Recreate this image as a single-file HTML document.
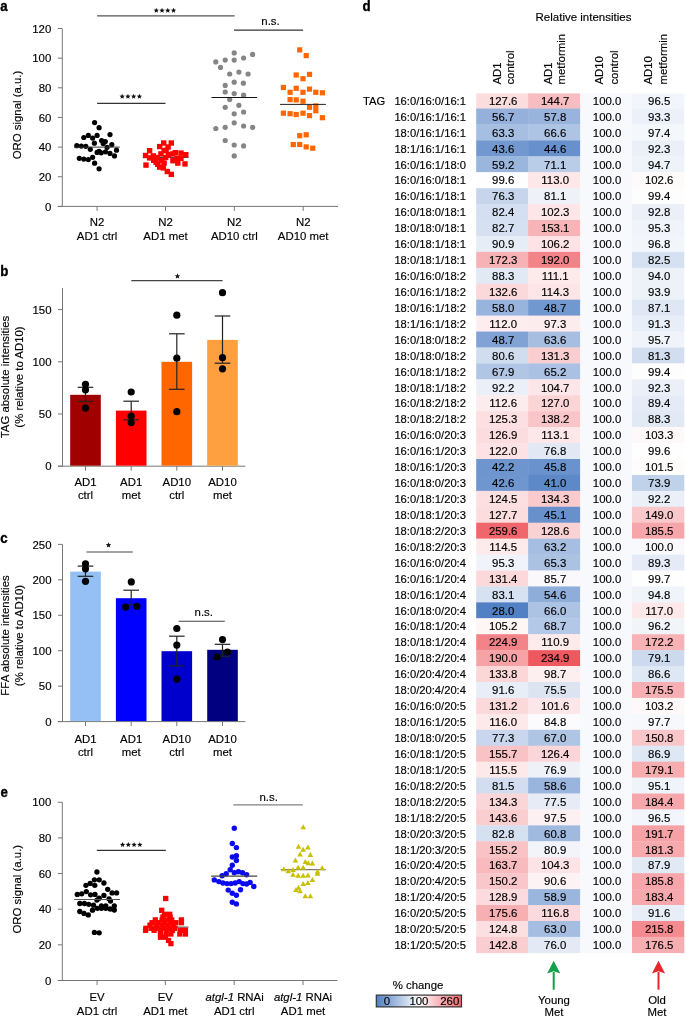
<!DOCTYPE html>
<html><head><meta charset="utf-8"><title>Figure</title>
<style>
html,body{margin:0;padding:0;background:#fff;width:685px;height:1016px;overflow:hidden;}
svg{display:block;font-family:"Liberation Sans", sans-serif;will-change:transform;-webkit-font-smoothing:antialiased;}
text{font-family:"Liberation Sans", sans-serif;}
</style></head>
<body>
<svg width="685" height="1016" viewBox="0 0 685 1016">
<rect x="0" y="0" width="685" height="1016" fill="#fff"/>
<text transform="translate(0.3 11.0) scale(0.9 1)" x="0" y="0" font-size="14.8" font-weight="bold" fill="#000" stroke="#000" stroke-width="0.35">a</text>
<line x1="62.30" y1="28.60" x2="62.30" y2="206.40" stroke="#777777" stroke-width="1"/>
<line x1="57.80" y1="206.40" x2="62.30" y2="206.40" stroke="#777777" stroke-width="1"/>
<text x="51.30" y="210.60" font-size="11.4" text-anchor="end" font-weight="normal" fill="#000" stroke="#000" stroke-width="0.15">0</text>
<line x1="57.80" y1="176.75" x2="62.30" y2="176.75" stroke="#777777" stroke-width="1"/>
<text x="51.30" y="180.95" font-size="11.4" text-anchor="end" font-weight="normal" fill="#000" stroke="#000" stroke-width="0.15">20</text>
<line x1="57.80" y1="147.10" x2="62.30" y2="147.10" stroke="#777777" stroke-width="1"/>
<text x="51.30" y="151.30" font-size="11.4" text-anchor="end" font-weight="normal" fill="#000" stroke="#000" stroke-width="0.15">40</text>
<line x1="57.80" y1="117.45" x2="62.30" y2="117.45" stroke="#777777" stroke-width="1"/>
<text x="51.30" y="121.65" font-size="11.4" text-anchor="end" font-weight="normal" fill="#000" stroke="#000" stroke-width="0.15">60</text>
<line x1="57.80" y1="87.80" x2="62.30" y2="87.80" stroke="#777777" stroke-width="1"/>
<text x="51.30" y="92.00" font-size="11.4" text-anchor="end" font-weight="normal" fill="#000" stroke="#000" stroke-width="0.15">80</text>
<line x1="57.80" y1="58.15" x2="62.30" y2="58.15" stroke="#777777" stroke-width="1"/>
<text x="51.30" y="62.35" font-size="11.4" text-anchor="end" font-weight="normal" fill="#000" stroke="#000" stroke-width="0.15">100</text>
<line x1="57.80" y1="28.50" x2="62.30" y2="28.50" stroke="#777777" stroke-width="1"/>
<text x="51.30" y="32.70" font-size="11.4" text-anchor="end" font-weight="normal" fill="#000" stroke="#000" stroke-width="0.15">120</text>
<line x1="57.80" y1="206.40" x2="338.00" y2="206.40" stroke="#777777" stroke-width="1"/>
<line x1="97.10" y1="206.40" x2="97.10" y2="210.90" stroke="#777777" stroke-width="1"/>
<line x1="165.50" y1="206.40" x2="165.50" y2="210.90" stroke="#777777" stroke-width="1"/>
<line x1="234.30" y1="206.40" x2="234.30" y2="210.90" stroke="#777777" stroke-width="1"/>
<line x1="303.20" y1="206.40" x2="303.20" y2="210.90" stroke="#777777" stroke-width="1"/>
<text x="97.10" y="226.00" font-size="11.4" text-anchor="middle" font-weight="normal" fill="#000" stroke="#000" stroke-width="0.15">N2</text>
<text x="97.10" y="240.20" font-size="11.4" text-anchor="middle" font-weight="normal" fill="#000" stroke="#000" stroke-width="0.15">AD1 ctrl</text>
<text x="165.50" y="226.00" font-size="11.4" text-anchor="middle" font-weight="normal" fill="#000" stroke="#000" stroke-width="0.15">N2</text>
<text x="165.50" y="240.20" font-size="11.4" text-anchor="middle" font-weight="normal" fill="#000" stroke="#000" stroke-width="0.15">AD1 met</text>
<text x="234.30" y="226.00" font-size="11.4" text-anchor="middle" font-weight="normal" fill="#000" stroke="#000" stroke-width="0.15">N2</text>
<text x="234.30" y="240.20" font-size="11.4" text-anchor="middle" font-weight="normal" fill="#000" stroke="#000" stroke-width="0.15">AD10 ctrl</text>
<text x="303.20" y="226.00" font-size="11.4" text-anchor="middle" font-weight="normal" fill="#000" stroke="#000" stroke-width="0.15">N2</text>
<text x="303.20" y="240.20" font-size="11.4" text-anchor="middle" font-weight="normal" fill="#000" stroke="#000" stroke-width="0.15">AD10 met</text>
<text x="21.00" y="115.00" font-size="11.4" text-anchor="middle" font-weight="normal" fill="#000" transform="rotate(-90 21.0 115.0)" stroke="#000" stroke-width="0.15">ORO signal (a.u.)</text>
<line x1="97.10" y1="15.90" x2="234.60" y2="15.90" stroke="#555555" stroke-width="1.2"/>
<polygon points="156.28,7.75 157.00,9.50 158.89,9.65 157.45,10.88 157.89,12.72 156.28,11.74 154.66,12.72 155.10,10.88 153.66,9.65 155.55,9.50" fill="#111"/>
<polygon points="162.03,7.75 162.75,9.50 164.64,9.65 163.20,10.88 163.64,12.72 162.03,11.74 160.41,12.72 160.85,10.88 159.41,9.65 161.30,9.50" fill="#111"/>
<polygon points="167.78,7.75 168.50,9.50 170.39,9.65 168.95,10.88 169.39,12.72 167.78,11.74 166.16,12.72 166.60,10.88 165.16,9.65 167.05,9.50" fill="#111"/>
<polygon points="173.53,7.75 174.25,9.50 176.14,9.65 174.70,10.88 175.14,12.72 173.53,11.74 171.91,12.72 172.35,10.88 170.91,9.65 172.80,9.50" fill="#111"/>
<line x1="234.00" y1="30.10" x2="303.10" y2="30.10" stroke="#333" stroke-width="1.2"/>
<text x="270.50" y="25.30" font-size="11.4" text-anchor="middle" font-weight="normal" fill="#000" stroke="#000" stroke-width="0.15">n.s.</text>
<line x1="97.10" y1="103.30" x2="165.50" y2="103.30" stroke="#333" stroke-width="1.2"/>
<polygon points="122.18,93.75 122.90,95.50 124.79,95.65 123.35,96.88 123.79,98.72 122.18,97.74 120.56,98.72 121.00,96.88 119.56,95.65 121.45,95.50" fill="#111"/>
<polygon points="127.93,93.75 128.65,95.50 130.54,95.65 129.10,96.88 129.54,98.72 127.93,97.74 126.31,98.72 126.75,96.88 125.31,95.65 127.20,95.50" fill="#111"/>
<polygon points="133.68,93.75 134.40,95.50 136.29,95.65 134.85,96.88 135.29,98.72 133.68,97.74 132.06,98.72 132.50,96.88 131.06,95.65 132.95,95.50" fill="#111"/>
<polygon points="139.43,93.75 140.15,95.50 142.04,95.65 140.60,96.88 141.04,98.72 139.43,97.74 137.81,98.72 138.25,96.88 136.81,95.65 138.70,95.50" fill="#111"/>
<circle cx="94.60" cy="122.60" r="2.6" fill="#000"/>
<circle cx="99.10" cy="127.70" r="2.6" fill="#000"/>
<circle cx="83.80" cy="137.50" r="2.6" fill="#000"/>
<circle cx="88.30" cy="135.40" r="2.6" fill="#000"/>
<circle cx="92.60" cy="138.10" r="2.6" fill="#000"/>
<circle cx="97.10" cy="135.40" r="2.6" fill="#000"/>
<circle cx="110.00" cy="134.60" r="2.6" fill="#000"/>
<circle cx="94.40" cy="143.20" r="2.6" fill="#000"/>
<circle cx="101.60" cy="140.50" r="2.6" fill="#000"/>
<circle cx="105.30" cy="141.60" r="2.6" fill="#000"/>
<circle cx="103.20" cy="143.60" r="2.6" fill="#000"/>
<circle cx="111.80" cy="144.60" r="2.6" fill="#000"/>
<circle cx="76.80" cy="145.70" r="2.6" fill="#000"/>
<circle cx="81.30" cy="146.10" r="2.6" fill="#000"/>
<circle cx="85.80" cy="146.30" r="2.6" fill="#000"/>
<circle cx="90.30" cy="149.30" r="2.6" fill="#000"/>
<circle cx="107.10" cy="147.30" r="2.6" fill="#000"/>
<circle cx="116.50" cy="150.20" r="2.6" fill="#000"/>
<circle cx="97.10" cy="152.40" r="2.6" fill="#000"/>
<circle cx="99.10" cy="151.40" r="2.6" fill="#000"/>
<circle cx="101.20" cy="152.80" r="2.6" fill="#000"/>
<circle cx="105.50" cy="151.80" r="2.6" fill="#000"/>
<circle cx="110.00" cy="153.40" r="2.6" fill="#000"/>
<circle cx="114.50" cy="155.90" r="2.6" fill="#000"/>
<circle cx="79.30" cy="158.30" r="2.6" fill="#000"/>
<circle cx="83.80" cy="159.10" r="2.6" fill="#000"/>
<circle cx="88.30" cy="159.60" r="2.6" fill="#000"/>
<circle cx="92.60" cy="157.30" r="2.6" fill="#000"/>
<circle cx="94.60" cy="163.20" r="2.6" fill="#000"/>
<circle cx="99.10" cy="168.80" r="2.6" fill="#000"/>
<line x1="74.00" y1="147.10" x2="119.80" y2="147.10" stroke="#333" stroke-width="1"/>
<line x1="142.80" y1="157.30" x2="188.60" y2="157.30" stroke="#222" stroke-width="1"/>
<rect x="161.00" y="140.30" width="5.4" height="5.4" fill="#ff0000"/>
<rect x="168.60" y="140.30" width="5.4" height="5.4" fill="#ff0000"/>
<rect x="157.00" y="143.90" width="5.4" height="5.4" fill="#ff0000"/>
<rect x="165.40" y="144.30" width="5.4" height="5.4" fill="#ff0000"/>
<rect x="146.90" y="148.00" width="5.4" height="5.4" fill="#ff0000"/>
<rect x="161.40" y="148.00" width="5.4" height="5.4" fill="#ff0000"/>
<rect x="172.60" y="150.00" width="5.4" height="5.4" fill="#ff0000"/>
<rect x="178.30" y="150.40" width="5.4" height="5.4" fill="#ff0000"/>
<rect x="183.10" y="152.00" width="5.4" height="5.4" fill="#ff0000"/>
<rect x="142.90" y="152.80" width="5.4" height="5.4" fill="#ff0000"/>
<rect x="150.60" y="153.20" width="5.4" height="5.4" fill="#ff0000"/>
<rect x="158.20" y="151.20" width="5.4" height="5.4" fill="#ff0000"/>
<rect x="165.80" y="152.00" width="5.4" height="5.4" fill="#ff0000"/>
<rect x="169.80" y="151.20" width="5.4" height="5.4" fill="#ff0000"/>
<rect x="146.90" y="155.20" width="5.4" height="5.4" fill="#ff0000"/>
<rect x="154.60" y="154.80" width="5.4" height="5.4" fill="#ff0000"/>
<rect x="163.00" y="154.80" width="5.4" height="5.4" fill="#ff0000"/>
<rect x="174.30" y="155.60" width="5.4" height="5.4" fill="#ff0000"/>
<rect x="178.30" y="155.60" width="5.4" height="5.4" fill="#ff0000"/>
<rect x="151.00" y="157.60" width="5.4" height="5.4" fill="#ff0000"/>
<rect x="159.00" y="158.00" width="5.4" height="5.4" fill="#ff0000"/>
<rect x="170.20" y="158.00" width="5.4" height="5.4" fill="#ff0000"/>
<rect x="175.10" y="160.40" width="5.4" height="5.4" fill="#ff0000"/>
<rect x="182.30" y="161.20" width="5.4" height="5.4" fill="#ff0000"/>
<rect x="143.30" y="162.40" width="5.4" height="5.4" fill="#ff0000"/>
<rect x="155.00" y="161.60" width="5.4" height="5.4" fill="#ff0000"/>
<rect x="161.40" y="160.40" width="5.4" height="5.4" fill="#ff0000"/>
<rect x="157.00" y="164.40" width="5.4" height="5.4" fill="#ff0000"/>
<rect x="160.60" y="165.20" width="5.4" height="5.4" fill="#ff0000"/>
<rect x="164.60" y="168.80" width="5.4" height="5.4" fill="#ff0000"/>
<rect x="168.60" y="171.70" width="5.4" height="5.4" fill="#ff0000"/>
<rect x="153.40" y="159.60" width="5.4" height="5.4" fill="#ff0000"/>
<rect x="163.40" y="147.60" width="5.4" height="5.4" fill="#ff0000"/>
<circle cx="234.20" cy="52.90" r="2.6" fill="#858585"/>
<circle cx="252.60" cy="54.40" r="2.6" fill="#858585"/>
<circle cx="215.80" cy="61.90" r="2.6" fill="#858585"/>
<circle cx="225.20" cy="60.10" r="2.6" fill="#858585"/>
<circle cx="234.20" cy="60.10" r="2.6" fill="#858585"/>
<circle cx="243.60" cy="58.00" r="2.6" fill="#858585"/>
<circle cx="220.50" cy="67.40" r="2.6" fill="#858585"/>
<circle cx="229.70" cy="74.00" r="2.6" fill="#858585"/>
<circle cx="238.90" cy="72.10" r="2.6" fill="#858585"/>
<circle cx="248.10" cy="74.00" r="2.6" fill="#858585"/>
<circle cx="225.20" cy="85.40" r="2.6" fill="#858585"/>
<circle cx="234.20" cy="82.20" r="2.6" fill="#858585"/>
<circle cx="243.40" cy="83.20" r="2.6" fill="#858585"/>
<circle cx="225.20" cy="92.00" r="2.6" fill="#858585"/>
<circle cx="234.20" cy="93.60" r="2.6" fill="#858585"/>
<circle cx="243.60" cy="95.20" r="2.6" fill="#858585"/>
<circle cx="229.70" cy="99.50" r="2.6" fill="#858585"/>
<circle cx="225.20" cy="107.30" r="2.6" fill="#858585"/>
<circle cx="238.90" cy="105.30" r="2.6" fill="#858585"/>
<circle cx="234.20" cy="113.80" r="2.6" fill="#858585"/>
<circle cx="243.60" cy="112.00" r="2.6" fill="#858585"/>
<circle cx="215.80" cy="128.50" r="2.6" fill="#858585"/>
<circle cx="225.20" cy="127.30" r="2.6" fill="#858585"/>
<circle cx="234.20" cy="122.80" r="2.6" fill="#858585"/>
<circle cx="243.60" cy="126.00" r="2.6" fill="#858585"/>
<circle cx="252.60" cy="127.30" r="2.6" fill="#858585"/>
<circle cx="225.20" cy="140.50" r="2.6" fill="#858585"/>
<circle cx="234.20" cy="145.00" r="2.6" fill="#858585"/>
<circle cx="243.60" cy="145.90" r="2.6" fill="#858585"/>
<circle cx="234.20" cy="155.90" r="2.6" fill="#858585"/>
<line x1="211.50" y1="97.50" x2="257.10" y2="97.50" stroke="#111" stroke-width="1"/>
<rect x="297.10" y="47.30" width="5.2" height="5.2" fill="#ff6600"/>
<rect x="303.60" y="53.00" width="5.2" height="5.2" fill="#ff6600"/>
<rect x="293.60" y="72.40" width="5.2" height="5.2" fill="#ff6600"/>
<rect x="300.40" y="76.10" width="5.2" height="5.2" fill="#ff6600"/>
<rect x="306.90" y="71.80" width="5.2" height="5.2" fill="#ff6600"/>
<rect x="280.80" y="84.90" width="5.2" height="5.2" fill="#ff6600"/>
<rect x="287.50" y="89.70" width="5.2" height="5.2" fill="#ff6600"/>
<rect x="293.60" y="85.70" width="5.2" height="5.2" fill="#ff6600"/>
<rect x="300.40" y="89.70" width="5.2" height="5.2" fill="#ff6600"/>
<rect x="306.90" y="86.50" width="5.2" height="5.2" fill="#ff6600"/>
<rect x="313.20" y="89.70" width="5.2" height="5.2" fill="#ff6600"/>
<rect x="319.80" y="90.20" width="5.2" height="5.2" fill="#ff6600"/>
<rect x="287.50" y="97.00" width="5.2" height="5.2" fill="#ff6600"/>
<rect x="293.60" y="97.30" width="5.2" height="5.2" fill="#ff6600"/>
<rect x="300.40" y="98.60" width="5.2" height="5.2" fill="#ff6600"/>
<rect x="306.90" y="104.70" width="5.2" height="5.2" fill="#ff6600"/>
<rect x="313.20" y="103.40" width="5.2" height="5.2" fill="#ff6600"/>
<rect x="313.20" y="108.20" width="5.2" height="5.2" fill="#ff6600"/>
<rect x="280.80" y="110.60" width="5.2" height="5.2" fill="#ff6600"/>
<rect x="287.50" y="111.10" width="5.2" height="5.2" fill="#ff6600"/>
<rect x="293.60" y="111.90" width="5.2" height="5.2" fill="#ff6600"/>
<rect x="300.40" y="110.60" width="5.2" height="5.2" fill="#ff6600"/>
<rect x="306.90" y="113.00" width="5.2" height="5.2" fill="#ff6600"/>
<rect x="319.80" y="115.10" width="5.2" height="5.2" fill="#ff6600"/>
<rect x="297.10" y="133.10" width="5.2" height="5.2" fill="#ff6600"/>
<rect x="303.60" y="132.20" width="5.2" height="5.2" fill="#ff6600"/>
<rect x="290.70" y="142.00" width="5.2" height="5.2" fill="#ff6600"/>
<rect x="297.10" y="141.90" width="5.2" height="5.2" fill="#ff6600"/>
<rect x="303.60" y="144.30" width="5.2" height="5.2" fill="#ff6600"/>
<rect x="310.10" y="145.60" width="5.2" height="5.2" fill="#ff6600"/>
<line x1="280.10" y1="104.40" x2="325.90" y2="104.40" stroke="#222" stroke-width="1"/>
<text transform="translate(0.3 275.7) scale(0.9 1)" x="0" y="0" font-size="14.8" font-weight="bold" fill="#000" stroke="#000" stroke-width="0.35">b</text>
<line x1="62.50" y1="288.00" x2="62.50" y2="466.20" stroke="#777777" stroke-width="1"/>
<line x1="58.00" y1="466.20" x2="62.50" y2="466.20" stroke="#777777" stroke-width="1"/>
<text x="51.50" y="470.40" font-size="11.4" text-anchor="end" font-weight="normal" fill="#000" stroke="#000" stroke-width="0.15">0</text>
<line x1="58.00" y1="414.00" x2="62.50" y2="414.00" stroke="#777777" stroke-width="1"/>
<text x="51.50" y="418.20" font-size="11.4" text-anchor="end" font-weight="normal" fill="#000" stroke="#000" stroke-width="0.15">50</text>
<line x1="58.00" y1="361.80" x2="62.50" y2="361.80" stroke="#777777" stroke-width="1"/>
<text x="51.50" y="366.00" font-size="11.4" text-anchor="end" font-weight="normal" fill="#000" stroke="#000" stroke-width="0.15">100</text>
<line x1="58.00" y1="309.60" x2="62.50" y2="309.60" stroke="#777777" stroke-width="1"/>
<text x="51.50" y="313.80" font-size="11.4" text-anchor="end" font-weight="normal" fill="#000" stroke="#000" stroke-width="0.15">150</text>
<line x1="57.80" y1="466.20" x2="245.30" y2="466.20" stroke="#777777" stroke-width="1"/>
<line x1="85.50" y1="466.20" x2="85.50" y2="470.70" stroke="#777777" stroke-width="1"/>
<line x1="131.20" y1="466.20" x2="131.20" y2="470.70" stroke="#777777" stroke-width="1"/>
<line x1="176.80" y1="466.20" x2="176.80" y2="470.70" stroke="#777777" stroke-width="1"/>
<line x1="222.50" y1="466.20" x2="222.50" y2="470.70" stroke="#777777" stroke-width="1"/>
<rect x="70.20" y="394.80" width="30.60" height="70.90" fill="#a00000"/>
<rect x="115.90" y="410.60" width="30.60" height="55.10" fill="#ff0000"/>
<rect x="161.50" y="361.80" width="30.60" height="103.90" fill="#ff6600"/>
<rect x="207.20" y="339.90" width="30.60" height="125.80" fill="#ffa040"/>
<line x1="85.50" y1="387.30" x2="85.50" y2="401.50" stroke="#222" stroke-width="1.2"/>
<line x1="77.70" y1="387.30" x2="93.30" y2="387.30" stroke="#222" stroke-width="1.2"/>
<line x1="77.70" y1="401.50" x2="93.30" y2="401.50" stroke="#222" stroke-width="1.2"/>
<line x1="131.20" y1="401.20" x2="131.20" y2="419.80" stroke="#222" stroke-width="1.2"/>
<line x1="123.40" y1="401.20" x2="139.00" y2="401.20" stroke="#222" stroke-width="1.2"/>
<line x1="123.40" y1="419.80" x2="139.00" y2="419.80" stroke="#222" stroke-width="1.2"/>
<line x1="176.80" y1="333.80" x2="176.80" y2="389.30" stroke="#222" stroke-width="1.2"/>
<line x1="169.00" y1="333.80" x2="184.60" y2="333.80" stroke="#222" stroke-width="1.2"/>
<line x1="169.00" y1="389.30" x2="184.60" y2="389.30" stroke="#222" stroke-width="1.2"/>
<line x1="222.50" y1="316.00" x2="222.50" y2="363.20" stroke="#222" stroke-width="1.2"/>
<line x1="214.70" y1="316.00" x2="230.30" y2="316.00" stroke="#222" stroke-width="1.2"/>
<line x1="214.70" y1="363.20" x2="230.30" y2="363.20" stroke="#222" stroke-width="1.2"/>
<circle cx="85.50" cy="384.30" r="3.6" fill="#000"/>
<circle cx="85.50" cy="389.80" r="3.6" fill="#000"/>
<circle cx="85.50" cy="408.10" r="3.6" fill="#000"/>
<circle cx="131.20" cy="392.00" r="3.6" fill="#000"/>
<circle cx="131.20" cy="416.20" r="3.6" fill="#000"/>
<circle cx="131.20" cy="422.60" r="3.6" fill="#000"/>
<circle cx="176.80" cy="315.20" r="3.6" fill="#000"/>
<circle cx="176.80" cy="358.20" r="3.6" fill="#000"/>
<circle cx="176.80" cy="411.70" r="3.6" fill="#000"/>
<circle cx="222.50" cy="292.70" r="3.6" fill="#000"/>
<circle cx="222.50" cy="357.70" r="3.6" fill="#000"/>
<circle cx="222.50" cy="368.80" r="3.6" fill="#000"/>
<line x1="131.30" y1="280.60" x2="222.60" y2="280.60" stroke="#444" stroke-width="1.1"/>
<polygon points="177.45,273.35 178.20,275.16 180.16,275.32 178.67,276.60 179.13,278.51 177.45,277.48 175.77,278.51 176.23,276.60 174.74,275.32 176.70,275.16" fill="#111"/>
<text x="85.50" y="485.80" font-size="11.4" text-anchor="middle" font-weight="normal" fill="#000" stroke="#000" stroke-width="0.15">AD1</text>
<text x="85.50" y="499.00" font-size="11.4" text-anchor="middle" font-weight="normal" fill="#000" stroke="#000" stroke-width="0.15">ctrl</text>
<text x="131.20" y="485.80" font-size="11.4" text-anchor="middle" font-weight="normal" fill="#000" stroke="#000" stroke-width="0.15">AD1</text>
<text x="131.20" y="499.00" font-size="11.4" text-anchor="middle" font-weight="normal" fill="#000" stroke="#000" stroke-width="0.15">met</text>
<text x="176.80" y="485.80" font-size="11.4" text-anchor="middle" font-weight="normal" fill="#000" stroke="#000" stroke-width="0.15">AD10</text>
<text x="176.80" y="499.00" font-size="11.4" text-anchor="middle" font-weight="normal" fill="#000" stroke="#000" stroke-width="0.15">ctrl</text>
<text x="222.50" y="485.80" font-size="11.4" text-anchor="middle" font-weight="normal" fill="#000" stroke="#000" stroke-width="0.15">AD10</text>
<text x="222.50" y="499.00" font-size="11.4" text-anchor="middle" font-weight="normal" fill="#000" stroke="#000" stroke-width="0.15">met</text>
<text x="8.80" y="377.00" font-size="11.4" text-anchor="middle" font-weight="normal" fill="#000" transform="rotate(-90 8.8 377.0)" stroke="#000" stroke-width="0.15">TAG absolute intensities</text>
<text x="23.20" y="377.00" font-size="11.4" text-anchor="middle" font-weight="normal" fill="#000" transform="rotate(-90 23.2 377.0)" stroke="#000" stroke-width="0.15">(% relative to AD10)</text>
<text transform="translate(0.3 542.9) scale(0.9 1)" x="0" y="0" font-size="14.8" font-weight="bold" fill="#000" stroke="#000" stroke-width="0.35">c</text>
<line x1="62.50" y1="544.60" x2="62.50" y2="721.60" stroke="#777777" stroke-width="1"/>
<line x1="58.00" y1="721.60" x2="62.50" y2="721.60" stroke="#777777" stroke-width="1"/>
<text x="51.50" y="725.80" font-size="11.4" text-anchor="end" font-weight="normal" fill="#000" stroke="#000" stroke-width="0.15">0</text>
<line x1="58.00" y1="686.16" x2="62.50" y2="686.16" stroke="#777777" stroke-width="1"/>
<text x="51.50" y="690.36" font-size="11.4" text-anchor="end" font-weight="normal" fill="#000" stroke="#000" stroke-width="0.15">50</text>
<line x1="58.00" y1="650.72" x2="62.50" y2="650.72" stroke="#777777" stroke-width="1"/>
<text x="51.50" y="654.92" font-size="11.4" text-anchor="end" font-weight="normal" fill="#000" stroke="#000" stroke-width="0.15">100</text>
<line x1="58.00" y1="615.28" x2="62.50" y2="615.28" stroke="#777777" stroke-width="1"/>
<text x="51.50" y="619.48" font-size="11.4" text-anchor="end" font-weight="normal" fill="#000" stroke="#000" stroke-width="0.15">150</text>
<line x1="58.00" y1="579.84" x2="62.50" y2="579.84" stroke="#777777" stroke-width="1"/>
<text x="51.50" y="584.04" font-size="11.4" text-anchor="end" font-weight="normal" fill="#000" stroke="#000" stroke-width="0.15">200</text>
<line x1="58.00" y1="544.40" x2="62.50" y2="544.40" stroke="#777777" stroke-width="1"/>
<text x="51.50" y="548.60" font-size="11.4" text-anchor="end" font-weight="normal" fill="#000" stroke="#000" stroke-width="0.15">250</text>
<line x1="57.80" y1="721.60" x2="245.30" y2="721.60" stroke="#777777" stroke-width="1"/>
<line x1="85.50" y1="721.60" x2="85.50" y2="726.10" stroke="#777777" stroke-width="1"/>
<line x1="131.20" y1="721.60" x2="131.20" y2="726.10" stroke="#777777" stroke-width="1"/>
<line x1="176.80" y1="721.60" x2="176.80" y2="726.10" stroke="#777777" stroke-width="1"/>
<line x1="222.50" y1="721.60" x2="222.50" y2="726.10" stroke="#777777" stroke-width="1"/>
<rect x="70.20" y="571.60" width="30.60" height="149.50" fill="#94c0f5"/>
<rect x="115.90" y="598.20" width="30.60" height="122.90" fill="#0000ff"/>
<rect x="161.50" y="651.20" width="30.60" height="69.90" fill="#0000cc"/>
<rect x="207.20" y="649.80" width="30.60" height="71.30" fill="#000080"/>
<line x1="85.50" y1="566.10" x2="85.50" y2="576.30" stroke="#222" stroke-width="1.2"/>
<line x1="77.70" y1="566.10" x2="93.30" y2="566.10" stroke="#222" stroke-width="1.2"/>
<line x1="77.70" y1="576.30" x2="93.30" y2="576.30" stroke="#222" stroke-width="1.2"/>
<line x1="131.20" y1="590.20" x2="131.20" y2="605.00" stroke="#222" stroke-width="1.2"/>
<line x1="123.40" y1="590.20" x2="139.00" y2="590.20" stroke="#222" stroke-width="1.2"/>
<line x1="123.40" y1="605.00" x2="139.00" y2="605.00" stroke="#222" stroke-width="1.2"/>
<line x1="176.80" y1="636.20" x2="176.80" y2="665.90" stroke="#222" stroke-width="1.2"/>
<line x1="169.00" y1="636.20" x2="184.60" y2="636.20" stroke="#222" stroke-width="1.2"/>
<line x1="169.00" y1="665.90" x2="184.60" y2="665.90" stroke="#222" stroke-width="1.2"/>
<line x1="222.50" y1="644.30" x2="222.50" y2="656.20" stroke="#222" stroke-width="1.2"/>
<line x1="214.70" y1="644.30" x2="230.30" y2="644.30" stroke="#222" stroke-width="1.2"/>
<line x1="214.70" y1="656.20" x2="230.30" y2="656.20" stroke="#222" stroke-width="1.2"/>
<circle cx="85.50" cy="563.80" r="3.6" fill="#000"/>
<circle cx="85.50" cy="568.80" r="3.6" fill="#000"/>
<circle cx="85.50" cy="581.30" r="3.6" fill="#000"/>
<circle cx="131.30" cy="581.90" r="3.6" fill="#000"/>
<circle cx="125.70" cy="607.10" r="3.6" fill="#000"/>
<circle cx="136.80" cy="606.30" r="3.6" fill="#000"/>
<circle cx="176.80" cy="628.50" r="3.6" fill="#000"/>
<circle cx="176.80" cy="645.10" r="3.6" fill="#000"/>
<circle cx="176.80" cy="679.20" r="3.6" fill="#000"/>
<circle cx="222.50" cy="639.60" r="3.6" fill="#000"/>
<circle cx="217.00" cy="657.00" r="3.6" fill="#000"/>
<circle cx="227.50" cy="652.00" r="3.6" fill="#000"/>
<line x1="86.40" y1="552.00" x2="132.70" y2="552.00" stroke="#444" stroke-width="1.1"/>
<polygon points="108.50,542.25 109.25,544.06 111.21,544.22 109.72,545.50 110.18,547.41 108.50,546.38 106.82,547.41 107.28,545.50 105.79,544.22 107.75,544.06" fill="#111"/>
<line x1="178.70" y1="621.20" x2="224.80" y2="621.20" stroke="#444" stroke-width="1.1"/>
<text x="203.80" y="615.50" font-size="11.4" text-anchor="middle" font-weight="normal" fill="#000" stroke="#000" stroke-width="0.15">n.s.</text>
<text x="85.50" y="742.60" font-size="11.4" text-anchor="middle" font-weight="normal" fill="#000" stroke="#000" stroke-width="0.15">AD1</text>
<text x="85.50" y="755.80" font-size="11.4" text-anchor="middle" font-weight="normal" fill="#000" stroke="#000" stroke-width="0.15">ctrl</text>
<text x="131.20" y="742.60" font-size="11.4" text-anchor="middle" font-weight="normal" fill="#000" stroke="#000" stroke-width="0.15">AD1</text>
<text x="131.20" y="755.80" font-size="11.4" text-anchor="middle" font-weight="normal" fill="#000" stroke="#000" stroke-width="0.15">met</text>
<text x="176.80" y="742.60" font-size="11.4" text-anchor="middle" font-weight="normal" fill="#000" stroke="#000" stroke-width="0.15">AD10</text>
<text x="176.80" y="755.80" font-size="11.4" text-anchor="middle" font-weight="normal" fill="#000" stroke="#000" stroke-width="0.15">ctrl</text>
<text x="222.50" y="742.60" font-size="11.4" text-anchor="middle" font-weight="normal" fill="#000" stroke="#000" stroke-width="0.15">AD10</text>
<text x="222.50" y="755.80" font-size="11.4" text-anchor="middle" font-weight="normal" fill="#000" stroke="#000" stroke-width="0.15">met</text>
<text x="8.80" y="635.50" font-size="11.4" text-anchor="middle" font-weight="normal" fill="#000" transform="rotate(-90 8.8 635.5)" stroke="#000" stroke-width="0.15">FFA absolute intensities</text>
<text x="23.20" y="635.50" font-size="11.4" text-anchor="middle" font-weight="normal" fill="#000" transform="rotate(-90 23.2 635.5)" stroke="#000" stroke-width="0.15">(% relative to AD10)</text>
<text transform="translate(0.6 796.6) scale(0.9 1)" x="0" y="0" font-size="14.8" font-weight="bold" fill="#000" stroke="#000" stroke-width="0.35">e</text>
<line x1="62.30" y1="802.30" x2="62.30" y2="980.50" stroke="#777777" stroke-width="1"/>
<line x1="57.80" y1="980.50" x2="62.30" y2="980.50" stroke="#777777" stroke-width="1"/>
<text x="51.30" y="984.70" font-size="11.4" text-anchor="end" font-weight="normal" fill="#000" stroke="#000" stroke-width="0.15">0</text>
<line x1="57.80" y1="944.85" x2="62.30" y2="944.85" stroke="#777777" stroke-width="1"/>
<text x="51.30" y="949.05" font-size="11.4" text-anchor="end" font-weight="normal" fill="#000" stroke="#000" stroke-width="0.15">20</text>
<line x1="57.80" y1="909.20" x2="62.30" y2="909.20" stroke="#777777" stroke-width="1"/>
<text x="51.30" y="913.40" font-size="11.4" text-anchor="end" font-weight="normal" fill="#000" stroke="#000" stroke-width="0.15">40</text>
<line x1="57.80" y1="873.55" x2="62.30" y2="873.55" stroke="#777777" stroke-width="1"/>
<text x="51.30" y="877.75" font-size="11.4" text-anchor="end" font-weight="normal" fill="#000" stroke="#000" stroke-width="0.15">60</text>
<line x1="57.80" y1="837.90" x2="62.30" y2="837.90" stroke="#777777" stroke-width="1"/>
<text x="51.30" y="842.10" font-size="11.4" text-anchor="end" font-weight="normal" fill="#000" stroke="#000" stroke-width="0.15">80</text>
<line x1="57.80" y1="802.25" x2="62.30" y2="802.25" stroke="#777777" stroke-width="1"/>
<text x="51.30" y="806.45" font-size="11.4" text-anchor="end" font-weight="normal" fill="#000" stroke="#000" stroke-width="0.15">100</text>
<line x1="57.80" y1="980.50" x2="337.50" y2="980.50" stroke="#777777" stroke-width="1"/>
<line x1="97.10" y1="980.50" x2="97.10" y2="985.00" stroke="#777777" stroke-width="1"/>
<line x1="165.30" y1="980.50" x2="165.30" y2="985.00" stroke="#777777" stroke-width="1"/>
<line x1="234.20" y1="980.50" x2="234.20" y2="985.00" stroke="#777777" stroke-width="1"/>
<line x1="303.00" y1="980.50" x2="303.00" y2="985.00" stroke="#777777" stroke-width="1"/>
<line x1="96.80" y1="850.40" x2="165.80" y2="850.40" stroke="#333" stroke-width="1.2"/>
<polygon points="122.57,842.05 123.30,843.80 125.19,843.95 123.75,845.18 124.19,847.02 122.57,846.04 120.96,847.02 121.40,845.18 119.96,843.95 121.85,843.80" fill="#111"/>
<polygon points="128.32,842.05 129.05,843.80 130.94,843.95 129.50,845.18 129.94,847.02 128.32,846.04 126.71,847.02 127.15,845.18 125.71,843.95 127.60,843.80" fill="#111"/>
<polygon points="134.07,842.05 134.80,843.80 136.69,843.95 135.25,845.18 135.69,847.02 134.07,846.04 132.46,847.02 132.90,845.18 131.46,843.95 133.35,843.80" fill="#111"/>
<polygon points="139.82,842.05 140.55,843.80 142.44,843.95 141.00,845.18 141.44,847.02 139.82,846.04 138.21,847.02 138.65,845.18 137.21,843.95 139.10,843.80" fill="#111"/>
<line x1="233.30" y1="804.90" x2="302.80" y2="804.90" stroke="#808080" stroke-width="1.4"/>
<text x="268.70" y="801.20" font-size="11.4" text-anchor="middle" font-weight="normal" fill="#000" stroke="#000" stroke-width="0.15">n.s.</text>
<text x="21.00" y="889.20" font-size="11.4" text-anchor="middle" font-weight="normal" fill="#000" transform="rotate(-90 21.0 889.2)" stroke="#000" stroke-width="0.15">ORO signal (a.u.)</text>
<circle cx="96.90" cy="872.00" r="2.65" fill="#000"/>
<circle cx="94.40" cy="879.80" r="2.65" fill="#000"/>
<circle cx="99.20" cy="879.80" r="2.65" fill="#000"/>
<circle cx="103.90" cy="883.00" r="2.65" fill="#000"/>
<circle cx="85.90" cy="885.30" r="2.65" fill="#000"/>
<circle cx="90.20" cy="883.40" r="2.65" fill="#000"/>
<circle cx="94.80" cy="885.30" r="2.65" fill="#000"/>
<circle cx="107.70" cy="889.30" r="2.65" fill="#000"/>
<circle cx="86.30" cy="891.60" r="2.65" fill="#000"/>
<circle cx="77.30" cy="894.40" r="2.65" fill="#000"/>
<circle cx="81.70" cy="893.80" r="2.65" fill="#000"/>
<circle cx="90.60" cy="894.80" r="2.65" fill="#000"/>
<circle cx="95.00" cy="894.40" r="2.65" fill="#000"/>
<circle cx="112.10" cy="892.90" r="2.65" fill="#000"/>
<circle cx="116.60" cy="892.90" r="2.65" fill="#000"/>
<circle cx="103.90" cy="895.40" r="2.65" fill="#000"/>
<circle cx="99.20" cy="898.20" r="2.65" fill="#000"/>
<circle cx="96.90" cy="900.10" r="2.65" fill="#000"/>
<circle cx="109.00" cy="898.80" r="2.65" fill="#000"/>
<circle cx="110.50" cy="901.10" r="2.65" fill="#000"/>
<circle cx="79.80" cy="903.50" r="2.65" fill="#000"/>
<circle cx="84.40" cy="903.50" r="2.65" fill="#000"/>
<circle cx="88.70" cy="904.30" r="2.65" fill="#000"/>
<circle cx="93.50" cy="905.20" r="2.65" fill="#000"/>
<circle cx="101.40" cy="905.80" r="2.65" fill="#000"/>
<circle cx="105.80" cy="905.80" r="2.65" fill="#000"/>
<circle cx="114.30" cy="905.80" r="2.65" fill="#000"/>
<circle cx="97.30" cy="908.30" r="2.65" fill="#000"/>
<circle cx="92.50" cy="910.20" r="2.65" fill="#000"/>
<circle cx="101.40" cy="908.30" r="2.65" fill="#000"/>
<circle cx="105.80" cy="908.30" r="2.65" fill="#000"/>
<circle cx="110.20" cy="909.00" r="2.65" fill="#000"/>
<circle cx="114.30" cy="910.00" r="2.65" fill="#000"/>
<circle cx="79.80" cy="911.50" r="2.65" fill="#000"/>
<circle cx="84.00" cy="913.40" r="2.65" fill="#000"/>
<circle cx="88.30" cy="914.90" r="2.65" fill="#000"/>
<circle cx="94.40" cy="932.40" r="2.65" fill="#000"/>
<circle cx="99.20" cy="932.80" r="2.65" fill="#000"/>
<line x1="74.10" y1="899.50" x2="120.00" y2="899.50" stroke="#555" stroke-width="1.2"/>
<line x1="143.20" y1="927.10" x2="188.40" y2="927.10" stroke="#666" stroke-width="1.2"/>
<rect x="163.05" y="895.85" width="5.3" height="5.3" fill="#ff0000"/>
<rect x="159.05" y="907.65" width="5.3" height="5.3" fill="#ff0000"/>
<rect x="161.85" y="911.65" width="5.3" height="5.3" fill="#ff0000"/>
<rect x="167.05" y="911.65" width="5.3" height="5.3" fill="#ff0000"/>
<rect x="160.25" y="914.45" width="5.3" height="5.3" fill="#ff0000"/>
<rect x="167.45" y="914.45" width="5.3" height="5.3" fill="#ff0000"/>
<rect x="152.65" y="917.25" width="5.3" height="5.3" fill="#ff0000"/>
<rect x="159.45" y="917.25" width="5.3" height="5.3" fill="#ff0000"/>
<rect x="164.25" y="917.25" width="5.3" height="5.3" fill="#ff0000"/>
<rect x="169.05" y="917.25" width="5.3" height="5.3" fill="#ff0000"/>
<rect x="178.75" y="917.25" width="5.3" height="5.3" fill="#ff0000"/>
<rect x="149.45" y="920.05" width="5.3" height="5.3" fill="#ff0000"/>
<rect x="155.45" y="920.05" width="5.3" height="5.3" fill="#ff0000"/>
<rect x="161.85" y="920.05" width="5.3" height="5.3" fill="#ff0000"/>
<rect x="168.25" y="920.05" width="5.3" height="5.3" fill="#ff0000"/>
<rect x="173.15" y="920.05" width="5.3" height="5.3" fill="#ff0000"/>
<rect x="178.75" y="920.05" width="5.3" height="5.3" fill="#ff0000"/>
<rect x="147.35" y="922.45" width="5.3" height="5.3" fill="#ff0000"/>
<rect x="153.85" y="922.45" width="5.3" height="5.3" fill="#ff0000"/>
<rect x="159.45" y="922.45" width="5.3" height="5.3" fill="#ff0000"/>
<rect x="165.05" y="922.45" width="5.3" height="5.3" fill="#ff0000"/>
<rect x="170.65" y="922.45" width="5.3" height="5.3" fill="#ff0000"/>
<rect x="143.35" y="925.65" width="5.3" height="5.3" fill="#ff0000"/>
<rect x="149.05" y="925.65" width="5.3" height="5.3" fill="#ff0000"/>
<rect x="154.65" y="925.65" width="5.3" height="5.3" fill="#ff0000"/>
<rect x="161.05" y="925.65" width="5.3" height="5.3" fill="#ff0000"/>
<rect x="167.45" y="925.65" width="5.3" height="5.3" fill="#ff0000"/>
<rect x="172.25" y="925.65" width="5.3" height="5.3" fill="#ff0000"/>
<rect x="142.95" y="927.65" width="5.3" height="5.3" fill="#ff0000"/>
<rect x="151.45" y="927.65" width="5.3" height="5.3" fill="#ff0000"/>
<rect x="157.85" y="927.65" width="5.3" height="5.3" fill="#ff0000"/>
<rect x="164.25" y="927.65" width="5.3" height="5.3" fill="#ff0000"/>
<rect x="169.85" y="927.65" width="5.3" height="5.3" fill="#ff0000"/>
<rect x="177.95" y="927.65" width="5.3" height="5.3" fill="#ff0000"/>
<rect x="182.75" y="927.65" width="5.3" height="5.3" fill="#ff0000"/>
<rect x="157.85" y="931.35" width="5.3" height="5.3" fill="#ff0000"/>
<rect x="163.45" y="931.35" width="5.3" height="5.3" fill="#ff0000"/>
<rect x="168.25" y="931.35" width="5.3" height="5.3" fill="#ff0000"/>
<rect x="177.15" y="931.35" width="5.3" height="5.3" fill="#ff0000"/>
<rect x="182.75" y="931.35" width="5.3" height="5.3" fill="#ff0000"/>
<rect x="157.85" y="934.55" width="5.3" height="5.3" fill="#ff0000"/>
<rect x="162.65" y="934.55" width="5.3" height="5.3" fill="#ff0000"/>
<rect x="165.85" y="937.75" width="5.3" height="5.3" fill="#ff0000"/>
<rect x="168.25" y="940.95" width="5.3" height="5.3" fill="#ff0000"/>
<circle cx="234.30" cy="828.20" r="2.7" fill="#0a0af0"/>
<circle cx="232.30" cy="843.50" r="2.7" fill="#0a0af0"/>
<circle cx="236.40" cy="847.60" r="2.7" fill="#0a0af0"/>
<circle cx="232.30" cy="857.00" r="2.7" fill="#0a0af0"/>
<circle cx="236.40" cy="855.80" r="2.7" fill="#0a0af0"/>
<circle cx="236.40" cy="860.50" r="2.7" fill="#0a0af0"/>
<circle cx="232.30" cy="865.20" r="2.7" fill="#0a0af0"/>
<circle cx="230.20" cy="869.70" r="2.7" fill="#0a0af0"/>
<circle cx="234.30" cy="872.80" r="2.7" fill="#0a0af0"/>
<circle cx="238.40" cy="871.70" r="2.7" fill="#0a0af0"/>
<circle cx="242.50" cy="872.80" r="2.7" fill="#0a0af0"/>
<circle cx="246.60" cy="874.80" r="2.7" fill="#0a0af0"/>
<circle cx="226.20" cy="873.80" r="2.7" fill="#0a0af0"/>
<circle cx="222.10" cy="875.80" r="2.7" fill="#0a0af0"/>
<circle cx="214.30" cy="879.90" r="2.7" fill="#0a0af0"/>
<circle cx="218.80" cy="881.60" r="2.7" fill="#0a0af0"/>
<circle cx="222.90" cy="883.00" r="2.7" fill="#0a0af0"/>
<circle cx="227.00" cy="883.60" r="2.7" fill="#0a0af0"/>
<circle cx="231.10" cy="883.60" r="2.7" fill="#0a0af0"/>
<circle cx="235.20" cy="883.00" r="2.7" fill="#0a0af0"/>
<circle cx="239.20" cy="881.60" r="2.7" fill="#0a0af0"/>
<circle cx="242.90" cy="883.60" r="2.7" fill="#0a0af0"/>
<circle cx="246.60" cy="884.00" r="2.7" fill="#0a0af0"/>
<circle cx="250.10" cy="882.40" r="2.7" fill="#0a0af0"/>
<circle cx="253.80" cy="886.50" r="2.7" fill="#0a0af0"/>
<circle cx="228.20" cy="890.10" r="2.7" fill="#0a0af0"/>
<circle cx="240.50" cy="889.70" r="2.7" fill="#0a0af0"/>
<circle cx="232.30" cy="893.20" r="2.7" fill="#0a0af0"/>
<circle cx="236.40" cy="895.30" r="2.7" fill="#0a0af0"/>
<circle cx="232.30" cy="902.30" r="2.7" fill="#0a0af0"/>
<circle cx="236.40" cy="903.90" r="2.7" fill="#0a0af0"/>
<line x1="211.20" y1="876.20" x2="257.20" y2="876.20" stroke="#444" stroke-width="1.2"/>
<line x1="280.70" y1="869.70" x2="325.70" y2="869.70" stroke="#7a7a7a" stroke-width="1.3"/>
<polygon points="303.20,824.18 300.40,829.22 306.00,829.22" fill="#c8c000"/>
<polygon points="298.50,843.78 295.70,848.82 301.30,848.82" fill="#c8c000"/>
<polygon points="303.20,846.68 300.40,851.72 306.00,851.72" fill="#c8c000"/>
<polygon points="307.90,844.58 305.10,849.62 310.70,849.62" fill="#c8c000"/>
<polygon points="300.10,851.38 297.30,856.42 302.90,856.42" fill="#c8c000"/>
<polygon points="310.40,851.98 307.60,857.02 313.20,857.02" fill="#c8c000"/>
<polygon points="295.40,857.48 292.60,862.52 298.20,862.52" fill="#c8c000"/>
<polygon points="305.30,858.88 302.50,863.92 308.10,863.92" fill="#c8c000"/>
<polygon points="308.30,860.18 305.50,865.22 311.10,865.22" fill="#c8c000"/>
<polygon points="312.40,860.58 309.60,865.62 315.20,865.62" fill="#c8c000"/>
<polygon points="283.80,866.28 281.00,871.32 286.60,871.32" fill="#c8c000"/>
<polygon points="288.30,868.28 285.50,873.32 291.10,873.32" fill="#c8c000"/>
<polygon points="293.00,867.08 290.20,872.12 295.80,872.12" fill="#c8c000"/>
<polygon points="298.10,864.68 295.30,869.72 300.90,869.72" fill="#c8c000"/>
<polygon points="303.20,864.68 300.40,869.72 306.00,869.72" fill="#c8c000"/>
<polygon points="322.20,865.28 319.40,870.32 325.00,870.32" fill="#c8c000"/>
<polygon points="317.50,868.68 314.70,873.72 320.30,873.72" fill="#c8c000"/>
<polygon points="293.00,871.78 290.20,876.82 295.80,876.82" fill="#c8c000"/>
<polygon points="298.10,872.78 295.30,877.82 300.90,877.82" fill="#c8c000"/>
<polygon points="303.20,872.78 300.40,877.82 306.00,877.82" fill="#c8c000"/>
<polygon points="307.90,872.38 305.10,877.42 310.70,877.42" fill="#c8c000"/>
<polygon points="317.50,870.78 314.70,875.82 320.30,875.82" fill="#c8c000"/>
<polygon points="312.40,876.88 309.60,881.92 315.20,881.92" fill="#c8c000"/>
<polygon points="303.20,880.98 300.40,886.02 306.00,886.02" fill="#c8c000"/>
<polygon points="307.90,879.98 305.10,885.02 310.70,885.02" fill="#c8c000"/>
<polygon points="298.50,884.68 295.70,889.72 301.30,889.72" fill="#c8c000"/>
<polygon points="296.00,887.08 293.20,892.12 298.80,892.12" fill="#c8c000"/>
<polygon points="300.10,888.18 297.30,893.22 302.90,893.22" fill="#c8c000"/>
<polygon points="305.30,893.28 302.50,898.32 308.10,898.32" fill="#c8c000"/>
<polygon points="310.40,893.28 307.60,898.32 313.20,898.32" fill="#c8c000"/>
<text x="97.10" y="1000.50" font-size="11.4" text-anchor="middle" font-weight="normal" fill="#000" stroke="#000" stroke-width="0.15">EV</text>
<text x="97.10" y="1014.50" font-size="11.4" text-anchor="middle" font-weight="normal" fill="#000" stroke="#000" stroke-width="0.15">AD1 ctrl</text>
<text x="165.30" y="1000.50" font-size="11.4" text-anchor="middle" font-weight="normal" fill="#000" stroke="#000" stroke-width="0.15">EV</text>
<text x="165.30" y="1014.50" font-size="11.4" text-anchor="middle" font-weight="normal" fill="#000" stroke="#000" stroke-width="0.15">AD1 met</text>
<text x="234.20" y="1014.50" font-size="11.4" text-anchor="middle" font-weight="normal" fill="#000" stroke="#000" stroke-width="0.15">AD1 ctrl</text>
<text x="303.00" y="1014.50" font-size="11.4" text-anchor="middle" font-weight="normal" fill="#000" stroke="#000" stroke-width="0.15">AD1 met</text>
<text x="234.6" y="1000.5" font-size="11.4" text-anchor="middle" fill="#000" stroke="#000" stroke-width="0.15"><tspan font-style="italic">atgl-1</tspan> RNAi</text>
<text x="303.0" y="1000.5" font-size="11.4" text-anchor="middle" fill="#000" stroke="#000" stroke-width="0.15"><tspan font-style="italic">atgl-1</tspan> RNAi</text>
<text transform="translate(362.5 11.2) scale(0.9 1)" x="0" y="0" font-size="14.8" font-weight="bold" fill="#000" stroke="#000" stroke-width="0.35">d</text>
<text x="583.50" y="21.30" font-size="11.5" text-anchor="middle" font-weight="normal" fill="#000" stroke="#000" stroke-width="0.15">Relative intensities</text>
<rect x="476.20" y="93.40" width="52.20" height="15.43" fill="#fcddde"/>
<rect x="528.10" y="93.40" width="52.40" height="15.43" fill="#f8bdc0"/>
<rect x="580.20" y="93.40" width="52.10" height="15.43" fill="#f8f9fc"/>
<rect x="632.00" y="93.40" width="52.30" height="15.43" fill="#f2f5fb"/>
<text x="503.15" y="104.80" font-size="11.4" text-anchor="middle" font-weight="normal" fill="#000" stroke="#000" stroke-width="0.15">127.6</text>
<text x="555.15" y="104.80" font-size="11.4" text-anchor="middle" font-weight="normal" fill="#000" stroke="#000" stroke-width="0.15">144.7</text>
<text x="607.10" y="104.80" font-size="11.4" text-anchor="middle" font-weight="normal" fill="#000" stroke="#000" stroke-width="0.15">100.0</text>
<text x="659.15" y="104.80" font-size="11.4" text-anchor="middle" font-weight="normal" fill="#000" stroke="#000" stroke-width="0.15">96.5</text>
<text x="394.40" y="104.80" font-size="11.2" text-anchor="start" font-weight="normal" fill="#000" stroke="#000" stroke-width="0.15">16:0/16:0/16:1</text>
<rect x="476.20" y="108.53" width="52.20" height="16.23" fill="#95b1db"/>
<rect x="528.10" y="108.53" width="52.40" height="16.23" fill="#98b3dc"/>
<rect x="580.20" y="108.53" width="52.10" height="16.23" fill="#f8f9fc"/>
<rect x="632.00" y="108.53" width="52.30" height="16.23" fill="#ecf1f9"/>
<text x="503.15" y="120.73" font-size="11.4" text-anchor="middle" font-weight="normal" fill="#000" stroke="#000" stroke-width="0.15">56.7</text>
<text x="555.15" y="120.73" font-size="11.4" text-anchor="middle" font-weight="normal" fill="#000" stroke="#000" stroke-width="0.15">57.8</text>
<text x="607.10" y="120.73" font-size="11.4" text-anchor="middle" font-weight="normal" fill="#000" stroke="#000" stroke-width="0.15">100.0</text>
<text x="659.15" y="120.73" font-size="11.4" text-anchor="middle" font-weight="normal" fill="#000" stroke="#000" stroke-width="0.15">93.3</text>
<text x="394.40" y="120.73" font-size="11.2" text-anchor="start" font-weight="normal" fill="#000" stroke="#000" stroke-width="0.15">16:0/16:1/16:1</text>
<rect x="476.20" y="124.46" width="52.20" height="16.23" fill="#a6bee1"/>
<rect x="528.10" y="124.46" width="52.40" height="16.23" fill="#aec4e4"/>
<rect x="580.20" y="124.46" width="52.10" height="16.23" fill="#f8f9fc"/>
<rect x="632.00" y="124.46" width="52.30" height="16.23" fill="#f4f7fb"/>
<text x="503.15" y="136.66" font-size="11.4" text-anchor="middle" font-weight="normal" fill="#000" stroke="#000" stroke-width="0.15">63.3</text>
<text x="555.15" y="136.66" font-size="11.4" text-anchor="middle" font-weight="normal" fill="#000" stroke="#000" stroke-width="0.15">66.6</text>
<text x="607.10" y="136.66" font-size="11.4" text-anchor="middle" font-weight="normal" fill="#000" stroke="#000" stroke-width="0.15">100.0</text>
<text x="659.15" y="136.66" font-size="11.4" text-anchor="middle" font-weight="normal" fill="#000" stroke="#000" stroke-width="0.15">97.4</text>
<text x="394.40" y="136.66" font-size="11.2" text-anchor="start" font-weight="normal" fill="#000" stroke="#000" stroke-width="0.15">18:0/16:1/16:1</text>
<rect x="476.20" y="140.39" width="52.20" height="16.23" fill="#7298cf"/>
<rect x="528.10" y="140.39" width="52.40" height="16.23" fill="#6790cc"/>
<rect x="580.20" y="140.39" width="52.10" height="16.23" fill="#f8f9fc"/>
<rect x="632.00" y="140.39" width="52.30" height="16.23" fill="#eaeff8"/>
<text x="503.15" y="152.59" font-size="11.4" text-anchor="middle" font-weight="normal" fill="#000" stroke="#000" stroke-width="0.15">43.6</text>
<text x="555.15" y="152.59" font-size="11.4" text-anchor="middle" font-weight="normal" fill="#000" stroke="#000" stroke-width="0.15">44.6</text>
<text x="607.10" y="152.59" font-size="11.4" text-anchor="middle" font-weight="normal" fill="#000" stroke="#000" stroke-width="0.15">100.0</text>
<text x="659.15" y="152.59" font-size="11.4" text-anchor="middle" font-weight="normal" fill="#000" stroke="#000" stroke-width="0.15">92.3</text>
<text x="394.40" y="152.59" font-size="11.2" text-anchor="start" font-weight="normal" fill="#000" stroke="#000" stroke-width="0.15">18:1/16:1/16:1</text>
<rect x="476.20" y="156.32" width="52.20" height="16.23" fill="#9bb6dd"/>
<rect x="528.10" y="156.32" width="52.40" height="16.23" fill="#b9cce8"/>
<rect x="580.20" y="156.32" width="52.10" height="16.23" fill="#f8f9fc"/>
<rect x="632.00" y="156.32" width="52.30" height="16.23" fill="#eef3f9"/>
<text x="503.15" y="168.52" font-size="11.4" text-anchor="middle" font-weight="normal" fill="#000" stroke="#000" stroke-width="0.15">59.2</text>
<text x="555.15" y="168.52" font-size="11.4" text-anchor="middle" font-weight="normal" fill="#000" stroke="#000" stroke-width="0.15">71.1</text>
<text x="607.10" y="168.52" font-size="11.4" text-anchor="middle" font-weight="normal" fill="#000" stroke="#000" stroke-width="0.15">100.0</text>
<text x="659.15" y="168.52" font-size="11.4" text-anchor="middle" font-weight="normal" fill="#000" stroke="#000" stroke-width="0.15">94.7</text>
<text x="394.40" y="168.52" font-size="11.2" text-anchor="start" font-weight="normal" fill="#000" stroke="#000" stroke-width="0.15">16:0/16:1/18:0</text>
<rect x="476.20" y="172.25" width="52.20" height="16.23" fill="#fefeff"/>
<rect x="528.10" y="172.25" width="52.40" height="16.23" fill="#fde7e8"/>
<rect x="580.20" y="172.25" width="52.10" height="16.23" fill="#f8f9fc"/>
<rect x="632.00" y="172.25" width="52.30" height="16.23" fill="#fefafa"/>
<text x="503.15" y="184.45" font-size="11.4" text-anchor="middle" font-weight="normal" fill="#000" stroke="#000" stroke-width="0.15">99.6</text>
<text x="555.15" y="184.45" font-size="11.4" text-anchor="middle" font-weight="normal" fill="#000" stroke="#000" stroke-width="0.15">113.0</text>
<text x="607.10" y="184.45" font-size="11.4" text-anchor="middle" font-weight="normal" fill="#000" stroke="#000" stroke-width="0.15">100.0</text>
<text x="659.15" y="184.45" font-size="11.4" text-anchor="middle" font-weight="normal" fill="#000" stroke="#000" stroke-width="0.15">102.6</text>
<text x="394.40" y="184.45" font-size="11.2" text-anchor="start" font-weight="normal" fill="#000" stroke="#000" stroke-width="0.15">16:0/16:0/18:1</text>
<rect x="476.20" y="188.18" width="52.20" height="16.23" fill="#c6d5ec"/>
<rect x="528.10" y="188.18" width="52.40" height="16.23" fill="#eef1f8"/>
<rect x="580.20" y="188.18" width="52.10" height="16.23" fill="#f8f9fc"/>
<rect x="632.00" y="188.18" width="52.30" height="16.23" fill="#fdfdfe"/>
<text x="503.15" y="200.38" font-size="11.4" text-anchor="middle" font-weight="normal" fill="#000" stroke="#000" stroke-width="0.15">76.3</text>
<text x="555.15" y="200.38" font-size="11.4" text-anchor="middle" font-weight="normal" fill="#000" stroke="#000" stroke-width="0.15">81.1</text>
<text x="607.10" y="200.38" font-size="11.4" text-anchor="middle" font-weight="normal" fill="#000" stroke="#000" stroke-width="0.15">100.0</text>
<text x="659.15" y="200.38" font-size="11.4" text-anchor="middle" font-weight="normal" fill="#000" stroke="#000" stroke-width="0.15">99.4</text>
<text x="394.40" y="200.38" font-size="11.2" text-anchor="start" font-weight="normal" fill="#000" stroke="#000" stroke-width="0.15">16:0/16:1/18:1</text>
<rect x="476.20" y="204.11" width="52.20" height="16.23" fill="#d4e0f1"/>
<rect x="528.10" y="204.11" width="52.40" height="16.23" fill="#fde5e8"/>
<rect x="580.20" y="204.11" width="52.10" height="16.23" fill="#f8f9fc"/>
<rect x="632.00" y="204.11" width="52.30" height="16.23" fill="#ebf0f8"/>
<text x="503.15" y="216.31" font-size="11.4" text-anchor="middle" font-weight="normal" fill="#000" stroke="#000" stroke-width="0.15">82.4</text>
<text x="555.15" y="216.31" font-size="11.4" text-anchor="middle" font-weight="normal" fill="#000" stroke="#000" stroke-width="0.15">102.3</text>
<text x="607.10" y="216.31" font-size="11.4" text-anchor="middle" font-weight="normal" fill="#000" stroke="#000" stroke-width="0.15">100.0</text>
<text x="659.15" y="216.31" font-size="11.4" text-anchor="middle" font-weight="normal" fill="#000" stroke="#000" stroke-width="0.15">92.8</text>
<text x="394.40" y="216.31" font-size="11.2" text-anchor="start" font-weight="normal" fill="#000" stroke="#000" stroke-width="0.15">16:0/18:0/18:1</text>
<rect x="476.20" y="220.04" width="52.20" height="16.23" fill="#d5e0f1"/>
<rect x="528.10" y="220.04" width="52.40" height="16.23" fill="#f7b3b6"/>
<rect x="580.20" y="220.04" width="52.10" height="16.23" fill="#f8f9fc"/>
<rect x="632.00" y="220.04" width="52.30" height="16.23" fill="#f0f4fa"/>
<text x="503.15" y="232.24" font-size="11.4" text-anchor="middle" font-weight="normal" fill="#000" stroke="#000" stroke-width="0.15">82.7</text>
<text x="555.15" y="232.24" font-size="11.4" text-anchor="middle" font-weight="normal" fill="#000" stroke="#000" stroke-width="0.15">153.1</text>
<text x="607.10" y="232.24" font-size="11.4" text-anchor="middle" font-weight="normal" fill="#000" stroke="#000" stroke-width="0.15">100.0</text>
<text x="659.15" y="232.24" font-size="11.4" text-anchor="middle" font-weight="normal" fill="#000" stroke="#000" stroke-width="0.15">95.3</text>
<text x="394.40" y="232.24" font-size="11.2" text-anchor="start" font-weight="normal" fill="#000" stroke="#000" stroke-width="0.15">18:0/18:0/18:1</text>
<rect x="476.20" y="235.97" width="52.20" height="16.23" fill="#e7edf7"/>
<rect x="528.10" y="235.97" width="52.40" height="16.23" fill="#fde3e6"/>
<rect x="580.20" y="235.97" width="52.10" height="16.23" fill="#f8f9fc"/>
<rect x="632.00" y="235.97" width="52.30" height="16.23" fill="#f2f6fb"/>
<text x="503.15" y="248.17" font-size="11.4" text-anchor="middle" font-weight="normal" fill="#000" stroke="#000" stroke-width="0.15">90.9</text>
<text x="555.15" y="248.17" font-size="11.4" text-anchor="middle" font-weight="normal" fill="#000" stroke="#000" stroke-width="0.15">106.2</text>
<text x="607.10" y="248.17" font-size="11.4" text-anchor="middle" font-weight="normal" fill="#000" stroke="#000" stroke-width="0.15">100.0</text>
<text x="659.15" y="248.17" font-size="11.4" text-anchor="middle" font-weight="normal" fill="#000" stroke="#000" stroke-width="0.15">96.8</text>
<text x="394.40" y="248.17" font-size="11.2" text-anchor="start" font-weight="normal" fill="#000" stroke="#000" stroke-width="0.15">16:0/18:1/18:1</text>
<rect x="476.20" y="251.90" width="52.20" height="16.23" fill="#f7b2b5"/>
<rect x="528.10" y="251.90" width="52.40" height="16.23" fill="#f28489"/>
<rect x="580.20" y="251.90" width="52.10" height="16.23" fill="#f8f9fc"/>
<rect x="632.00" y="251.90" width="52.30" height="16.23" fill="#d5e0f1"/>
<text x="503.15" y="264.10" font-size="11.4" text-anchor="middle" font-weight="normal" fill="#000" stroke="#000" stroke-width="0.15">172.3</text>
<text x="555.15" y="264.10" font-size="11.4" text-anchor="middle" font-weight="normal" fill="#000" stroke="#000" stroke-width="0.15">192.0</text>
<text x="607.10" y="264.10" font-size="11.4" text-anchor="middle" font-weight="normal" fill="#000" stroke="#000" stroke-width="0.15">100.0</text>
<text x="659.15" y="264.10" font-size="11.4" text-anchor="middle" font-weight="normal" fill="#000" stroke="#000" stroke-width="0.15">82.5</text>
<text x="394.40" y="264.10" font-size="11.2" text-anchor="start" font-weight="normal" fill="#000" stroke="#000" stroke-width="0.15">18:0/18:1/18:1</text>
<rect x="476.20" y="267.83" width="52.20" height="16.23" fill="#e1e9f5"/>
<rect x="528.10" y="267.83" width="52.40" height="16.23" fill="#fdeaeb"/>
<rect x="580.20" y="267.83" width="52.10" height="16.23" fill="#f8f9fc"/>
<rect x="632.00" y="267.83" width="52.30" height="16.23" fill="#edf2f9"/>
<text x="503.15" y="280.03" font-size="11.4" text-anchor="middle" font-weight="normal" fill="#000" stroke="#000" stroke-width="0.15">88.3</text>
<text x="555.15" y="280.03" font-size="11.4" text-anchor="middle" font-weight="normal" fill="#000" stroke="#000" stroke-width="0.15">111.1</text>
<text x="607.10" y="280.03" font-size="11.4" text-anchor="middle" font-weight="normal" fill="#000" stroke="#000" stroke-width="0.15">100.0</text>
<text x="659.15" y="280.03" font-size="11.4" text-anchor="middle" font-weight="normal" fill="#000" stroke="#000" stroke-width="0.15">94.0</text>
<text x="394.40" y="280.03" font-size="11.2" text-anchor="start" font-weight="normal" fill="#000" stroke="#000" stroke-width="0.15">16:0/16:0/18:2</text>
<rect x="476.20" y="283.76" width="52.20" height="16.23" fill="#fbd8d9"/>
<rect x="528.10" y="283.76" width="52.40" height="16.23" fill="#fce5e6"/>
<rect x="580.20" y="283.76" width="52.10" height="16.23" fill="#f8f9fc"/>
<rect x="632.00" y="283.76" width="52.30" height="16.23" fill="#edf2f9"/>
<text x="503.15" y="295.96" font-size="11.4" text-anchor="middle" font-weight="normal" fill="#000" stroke="#000" stroke-width="0.15">132.6</text>
<text x="555.15" y="295.96" font-size="11.4" text-anchor="middle" font-weight="normal" fill="#000" stroke="#000" stroke-width="0.15">114.3</text>
<text x="607.10" y="295.96" font-size="11.4" text-anchor="middle" font-weight="normal" fill="#000" stroke="#000" stroke-width="0.15">100.0</text>
<text x="659.15" y="295.96" font-size="11.4" text-anchor="middle" font-weight="normal" fill="#000" stroke="#000" stroke-width="0.15">93.9</text>
<text x="394.40" y="295.96" font-size="11.2" text-anchor="start" font-weight="normal" fill="#000" stroke="#000" stroke-width="0.15">16:0/16:1/18:2</text>
<rect x="476.20" y="299.69" width="52.20" height="16.23" fill="#98b4dc"/>
<rect x="528.10" y="299.69" width="52.40" height="16.23" fill="#7298d0"/>
<rect x="580.20" y="299.69" width="52.10" height="16.23" fill="#f8f9fc"/>
<rect x="632.00" y="299.69" width="52.30" height="16.23" fill="#dfe7f4"/>
<text x="503.15" y="311.89" font-size="11.4" text-anchor="middle" font-weight="normal" fill="#000" stroke="#000" stroke-width="0.15">58.0</text>
<text x="555.15" y="311.89" font-size="11.4" text-anchor="middle" font-weight="normal" fill="#000" stroke="#000" stroke-width="0.15">48.7</text>
<text x="607.10" y="311.89" font-size="11.4" text-anchor="middle" font-weight="normal" fill="#000" stroke="#000" stroke-width="0.15">100.0</text>
<text x="659.15" y="311.89" font-size="11.4" text-anchor="middle" font-weight="normal" fill="#000" stroke="#000" stroke-width="0.15">87.1</text>
<text x="394.40" y="311.89" font-size="11.2" text-anchor="start" font-weight="normal" fill="#000" stroke="#000" stroke-width="0.15">18:0/16:1/18:2</text>
<rect x="476.20" y="315.62" width="52.20" height="16.23" fill="#fdedee"/>
<rect x="528.10" y="315.62" width="52.40" height="16.23" fill="#fdecee"/>
<rect x="580.20" y="315.62" width="52.10" height="16.23" fill="#f8f9fc"/>
<rect x="632.00" y="315.62" width="52.30" height="16.23" fill="#e8eef7"/>
<text x="503.15" y="327.82" font-size="11.4" text-anchor="middle" font-weight="normal" fill="#000" stroke="#000" stroke-width="0.15">112.0</text>
<text x="555.15" y="327.82" font-size="11.4" text-anchor="middle" font-weight="normal" fill="#000" stroke="#000" stroke-width="0.15">97.3</text>
<text x="607.10" y="327.82" font-size="11.4" text-anchor="middle" font-weight="normal" fill="#000" stroke="#000" stroke-width="0.15">100.0</text>
<text x="659.15" y="327.82" font-size="11.4" text-anchor="middle" font-weight="normal" fill="#000" stroke="#000" stroke-width="0.15">91.3</text>
<text x="394.40" y="327.82" font-size="11.2" text-anchor="start" font-weight="normal" fill="#000" stroke="#000" stroke-width="0.15">18:1/16:1/18:2</text>
<rect x="476.20" y="331.55" width="52.20" height="16.23" fill="#80a2d4"/>
<rect x="528.10" y="331.55" width="52.40" height="16.23" fill="#a7bee1"/>
<rect x="580.20" y="331.55" width="52.10" height="16.23" fill="#f8f9fc"/>
<rect x="632.00" y="331.55" width="52.30" height="16.23" fill="#f0f4fa"/>
<text x="503.15" y="343.75" font-size="11.4" text-anchor="middle" font-weight="normal" fill="#000" stroke="#000" stroke-width="0.15">48.7</text>
<text x="555.15" y="343.75" font-size="11.4" text-anchor="middle" font-weight="normal" fill="#000" stroke="#000" stroke-width="0.15">63.6</text>
<text x="607.10" y="343.75" font-size="11.4" text-anchor="middle" font-weight="normal" fill="#000" stroke="#000" stroke-width="0.15">100.0</text>
<text x="659.15" y="343.75" font-size="11.4" text-anchor="middle" font-weight="normal" fill="#000" stroke="#000" stroke-width="0.15">95.7</text>
<text x="394.40" y="343.75" font-size="11.2" text-anchor="start" font-weight="normal" fill="#000" stroke="#000" stroke-width="0.15">16:0/18:0/18:2</text>
<rect x="476.20" y="347.48" width="52.20" height="16.23" fill="#d0ddef"/>
<rect x="528.10" y="347.48" width="52.40" height="16.23" fill="#faced0"/>
<rect x="580.20" y="347.48" width="52.10" height="16.23" fill="#f8f9fc"/>
<rect x="632.00" y="347.48" width="52.30" height="16.23" fill="#d2def0"/>
<text x="503.15" y="359.68" font-size="11.4" text-anchor="middle" font-weight="normal" fill="#000" stroke="#000" stroke-width="0.15">80.6</text>
<text x="555.15" y="359.68" font-size="11.4" text-anchor="middle" font-weight="normal" fill="#000" stroke="#000" stroke-width="0.15">131.3</text>
<text x="607.10" y="359.68" font-size="11.4" text-anchor="middle" font-weight="normal" fill="#000" stroke="#000" stroke-width="0.15">100.0</text>
<text x="659.15" y="359.68" font-size="11.4" text-anchor="middle" font-weight="normal" fill="#000" stroke="#000" stroke-width="0.15">81.3</text>
<text x="394.40" y="359.68" font-size="11.2" text-anchor="start" font-weight="normal" fill="#000" stroke="#000" stroke-width="0.15">18:0/18:0/18:2</text>
<rect x="476.20" y="363.41" width="52.20" height="16.23" fill="#b1c6e5"/>
<rect x="528.10" y="363.41" width="52.40" height="16.23" fill="#abc1e3"/>
<rect x="580.20" y="363.41" width="52.10" height="16.23" fill="#f8f9fc"/>
<rect x="632.00" y="363.41" width="52.30" height="16.23" fill="#fdfdfe"/>
<text x="503.15" y="375.61" font-size="11.4" text-anchor="middle" font-weight="normal" fill="#000" stroke="#000" stroke-width="0.15">67.9</text>
<text x="555.15" y="375.61" font-size="11.4" text-anchor="middle" font-weight="normal" fill="#000" stroke="#000" stroke-width="0.15">65.2</text>
<text x="607.10" y="375.61" font-size="11.4" text-anchor="middle" font-weight="normal" fill="#000" stroke="#000" stroke-width="0.15">100.0</text>
<text x="659.15" y="375.61" font-size="11.4" text-anchor="middle" font-weight="normal" fill="#000" stroke="#000" stroke-width="0.15">99.4</text>
<text x="394.40" y="375.61" font-size="11.2" text-anchor="start" font-weight="normal" fill="#000" stroke="#000" stroke-width="0.15">16:0/18:1/18:2</text>
<rect x="476.20" y="379.34" width="52.20" height="16.23" fill="#eaeff8"/>
<rect x="528.10" y="379.34" width="52.40" height="16.23" fill="#fde6e9"/>
<rect x="580.20" y="379.34" width="52.10" height="16.23" fill="#f8f9fc"/>
<rect x="632.00" y="379.34" width="52.30" height="16.23" fill="#eaeff8"/>
<text x="503.15" y="391.54" font-size="11.4" text-anchor="middle" font-weight="normal" fill="#000" stroke="#000" stroke-width="0.15">92.2</text>
<text x="555.15" y="391.54" font-size="11.4" text-anchor="middle" font-weight="normal" fill="#000" stroke="#000" stroke-width="0.15">104.7</text>
<text x="607.10" y="391.54" font-size="11.4" text-anchor="middle" font-weight="normal" fill="#000" stroke="#000" stroke-width="0.15">100.0</text>
<text x="659.15" y="391.54" font-size="11.4" text-anchor="middle" font-weight="normal" fill="#000" stroke="#000" stroke-width="0.15">92.3</text>
<text x="394.40" y="391.54" font-size="11.2" text-anchor="start" font-weight="normal" fill="#000" stroke="#000" stroke-width="0.15">18:0/18:1/18:2</text>
<rect x="476.20" y="395.27" width="52.20" height="16.23" fill="#fdeced"/>
<rect x="528.10" y="395.27" width="52.40" height="16.23" fill="#fbd4d6"/>
<rect x="580.20" y="395.27" width="52.10" height="16.23" fill="#f8f9fc"/>
<rect x="632.00" y="395.27" width="52.30" height="16.23" fill="#e4ebf6"/>
<text x="503.15" y="407.47" font-size="11.4" text-anchor="middle" font-weight="normal" fill="#000" stroke="#000" stroke-width="0.15">112.6</text>
<text x="555.15" y="407.47" font-size="11.4" text-anchor="middle" font-weight="normal" fill="#000" stroke="#000" stroke-width="0.15">127.0</text>
<text x="607.10" y="407.47" font-size="11.4" text-anchor="middle" font-weight="normal" fill="#000" stroke="#000" stroke-width="0.15">100.0</text>
<text x="659.15" y="407.47" font-size="11.4" text-anchor="middle" font-weight="normal" fill="#000" stroke="#000" stroke-width="0.15">89.4</text>
<text x="394.40" y="407.47" font-size="11.2" text-anchor="start" font-weight="normal" fill="#000" stroke="#000" stroke-width="0.15">16:0/18:2/18:2</text>
<rect x="476.20" y="411.20" width="52.20" height="16.23" fill="#fcdfe0"/>
<rect x="528.10" y="411.20" width="52.40" height="16.23" fill="#f9c5c8"/>
<rect x="580.20" y="411.20" width="52.10" height="16.23" fill="#f8f9fc"/>
<rect x="632.00" y="411.20" width="52.30" height="16.23" fill="#e1e9f5"/>
<text x="503.15" y="423.40" font-size="11.4" text-anchor="middle" font-weight="normal" fill="#000" stroke="#000" stroke-width="0.15">125.3</text>
<text x="555.15" y="423.40" font-size="11.4" text-anchor="middle" font-weight="normal" fill="#000" stroke="#000" stroke-width="0.15">138.2</text>
<text x="607.10" y="423.40" font-size="11.4" text-anchor="middle" font-weight="normal" fill="#000" stroke="#000" stroke-width="0.15">100.0</text>
<text x="659.15" y="423.40" font-size="11.4" text-anchor="middle" font-weight="normal" fill="#000" stroke="#000" stroke-width="0.15">88.3</text>
<text x="394.40" y="423.40" font-size="11.2" text-anchor="start" font-weight="normal" fill="#000" stroke="#000" stroke-width="0.15">18:0/18:2/18:2</text>
<rect x="476.20" y="427.13" width="52.20" height="16.23" fill="#fcdddf"/>
<rect x="528.10" y="427.13" width="52.40" height="16.23" fill="#fde7e8"/>
<rect x="580.20" y="427.13" width="52.10" height="16.23" fill="#f8f9fc"/>
<rect x="632.00" y="427.13" width="52.30" height="16.23" fill="#fef8f8"/>
<text x="503.15" y="439.33" font-size="11.4" text-anchor="middle" font-weight="normal" fill="#000" stroke="#000" stroke-width="0.15">126.9</text>
<text x="555.15" y="439.33" font-size="11.4" text-anchor="middle" font-weight="normal" fill="#000" stroke="#000" stroke-width="0.15">113.1</text>
<text x="607.10" y="439.33" font-size="11.4" text-anchor="middle" font-weight="normal" fill="#000" stroke="#000" stroke-width="0.15">100.0</text>
<text x="659.15" y="439.33" font-size="11.4" text-anchor="middle" font-weight="normal" fill="#000" stroke="#000" stroke-width="0.15">103.3</text>
<text x="394.40" y="439.33" font-size="11.2" text-anchor="start" font-weight="normal" fill="#000" stroke="#000" stroke-width="0.15">16:0/16:0/20:3</text>
<rect x="476.20" y="443.06" width="52.20" height="16.23" fill="#fce2e4"/>
<rect x="528.10" y="443.06" width="52.40" height="16.23" fill="#e2e8f4"/>
<rect x="580.20" y="443.06" width="52.10" height="16.23" fill="#f8f9fc"/>
<rect x="632.00" y="443.06" width="52.30" height="16.23" fill="#fefeff"/>
<text x="503.15" y="455.26" font-size="11.4" text-anchor="middle" font-weight="normal" fill="#000" stroke="#000" stroke-width="0.15">122.0</text>
<text x="555.15" y="455.26" font-size="11.4" text-anchor="middle" font-weight="normal" fill="#000" stroke="#000" stroke-width="0.15">76.8</text>
<text x="607.10" y="455.26" font-size="11.4" text-anchor="middle" font-weight="normal" fill="#000" stroke="#000" stroke-width="0.15">100.0</text>
<text x="659.15" y="455.26" font-size="11.4" text-anchor="middle" font-weight="normal" fill="#000" stroke="#000" stroke-width="0.15">99.6</text>
<text x="394.40" y="455.26" font-size="11.2" text-anchor="start" font-weight="normal" fill="#000" stroke="#000" stroke-width="0.15">16:0/16:1/20:3</text>
<rect x="476.20" y="458.99" width="52.20" height="16.23" fill="#6e95ce"/>
<rect x="528.10" y="458.99" width="52.40" height="16.23" fill="#6a92cd"/>
<rect x="580.20" y="458.99" width="52.10" height="16.23" fill="#f8f9fc"/>
<rect x="632.00" y="458.99" width="52.30" height="16.23" fill="#fffcfc"/>
<text x="503.15" y="471.19" font-size="11.4" text-anchor="middle" font-weight="normal" fill="#000" stroke="#000" stroke-width="0.15">42.2</text>
<text x="555.15" y="471.19" font-size="11.4" text-anchor="middle" font-weight="normal" fill="#000" stroke="#000" stroke-width="0.15">45.8</text>
<text x="607.10" y="471.19" font-size="11.4" text-anchor="middle" font-weight="normal" fill="#000" stroke="#000" stroke-width="0.15">100.0</text>
<text x="659.15" y="471.19" font-size="11.4" text-anchor="middle" font-weight="normal" fill="#000" stroke="#000" stroke-width="0.15">101.5</text>
<text x="394.40" y="471.19" font-size="11.2" text-anchor="start" font-weight="normal" fill="#000" stroke="#000" stroke-width="0.15">18:0/16:1/20:3</text>
<rect x="476.20" y="474.92" width="52.20" height="16.23" fill="#6f96cf"/>
<rect x="528.10" y="474.92" width="52.40" height="16.23" fill="#5d89c8"/>
<rect x="580.20" y="474.92" width="52.10" height="16.23" fill="#f8f9fc"/>
<rect x="632.00" y="474.92" width="52.30" height="16.23" fill="#c0d1ea"/>
<text x="503.15" y="487.12" font-size="11.4" text-anchor="middle" font-weight="normal" fill="#000" stroke="#000" stroke-width="0.15">42.6</text>
<text x="555.15" y="487.12" font-size="11.4" text-anchor="middle" font-weight="normal" fill="#000" stroke="#000" stroke-width="0.15">41.0</text>
<text x="607.10" y="487.12" font-size="11.4" text-anchor="middle" font-weight="normal" fill="#000" stroke="#000" stroke-width="0.15">100.0</text>
<text x="659.15" y="487.12" font-size="11.4" text-anchor="middle" font-weight="normal" fill="#000" stroke="#000" stroke-width="0.15">73.9</text>
<text x="394.40" y="487.12" font-size="11.2" text-anchor="start" font-weight="normal" fill="#000" stroke="#000" stroke-width="0.15">16:0/18:0/20:3</text>
<rect x="476.20" y="490.85" width="52.20" height="16.23" fill="#fce0e1"/>
<rect x="528.10" y="490.85" width="52.40" height="16.23" fill="#facacd"/>
<rect x="580.20" y="490.85" width="52.10" height="16.23" fill="#f8f9fc"/>
<rect x="632.00" y="490.85" width="52.30" height="16.23" fill="#eaeff8"/>
<text x="503.15" y="503.05" font-size="11.4" text-anchor="middle" font-weight="normal" fill="#000" stroke="#000" stroke-width="0.15">124.5</text>
<text x="555.15" y="503.05" font-size="11.4" text-anchor="middle" font-weight="normal" fill="#000" stroke="#000" stroke-width="0.15">134.3</text>
<text x="607.10" y="503.05" font-size="11.4" text-anchor="middle" font-weight="normal" fill="#000" stroke="#000" stroke-width="0.15">100.0</text>
<text x="659.15" y="503.05" font-size="11.4" text-anchor="middle" font-weight="normal" fill="#000" stroke="#000" stroke-width="0.15">92.2</text>
<text x="394.40" y="503.05" font-size="11.2" text-anchor="start" font-weight="normal" fill="#000" stroke="#000" stroke-width="0.15">16:0/18:1/20:3</text>
<rect x="476.20" y="506.78" width="52.20" height="16.23" fill="#fcddde"/>
<rect x="528.10" y="506.78" width="52.40" height="16.23" fill="#6891cc"/>
<rect x="580.20" y="506.78" width="52.10" height="16.23" fill="#f8f9fc"/>
<rect x="632.00" y="506.78" width="52.30" height="16.23" fill="#f9c8ca"/>
<text x="503.15" y="518.98" font-size="11.4" text-anchor="middle" font-weight="normal" fill="#000" stroke="#000" stroke-width="0.15">127.7</text>
<text x="555.15" y="518.98" font-size="11.4" text-anchor="middle" font-weight="normal" fill="#000" stroke="#000" stroke-width="0.15">45.1</text>
<text x="607.10" y="518.98" font-size="11.4" text-anchor="middle" font-weight="normal" fill="#000" stroke="#000" stroke-width="0.15">100.0</text>
<text x="659.15" y="518.98" font-size="11.4" text-anchor="middle" font-weight="normal" fill="#000" stroke="#000" stroke-width="0.15">149.0</text>
<text x="394.40" y="518.98" font-size="11.2" text-anchor="start" font-weight="normal" fill="#000" stroke="#000" stroke-width="0.15">18:0/18:1/20:3</text>
<rect x="476.20" y="522.71" width="52.20" height="16.23" fill="#ef666c"/>
<rect x="528.10" y="522.71" width="52.40" height="16.23" fill="#fad2d4"/>
<rect x="580.20" y="522.71" width="52.10" height="16.23" fill="#f8f9fc"/>
<rect x="632.00" y="522.71" width="52.30" height="16.23" fill="#f6a6aa"/>
<text x="503.15" y="534.91" font-size="11.4" text-anchor="middle" font-weight="normal" fill="#000" stroke="#000" stroke-width="0.15">259.6</text>
<text x="555.15" y="534.91" font-size="11.4" text-anchor="middle" font-weight="normal" fill="#000" stroke="#000" stroke-width="0.15">128.6</text>
<text x="607.10" y="534.91" font-size="11.4" text-anchor="middle" font-weight="normal" fill="#000" stroke="#000" stroke-width="0.15">100.0</text>
<text x="659.15" y="534.91" font-size="11.4" text-anchor="middle" font-weight="normal" fill="#000" stroke="#000" stroke-width="0.15">185.5</text>
<text x="394.40" y="534.91" font-size="11.2" text-anchor="start" font-weight="normal" fill="#000" stroke="#000" stroke-width="0.15">18:0/18:2/20:3</text>
<rect x="476.20" y="538.64" width="52.20" height="16.23" fill="#fdeaeb"/>
<rect x="528.10" y="538.64" width="52.40" height="16.23" fill="#a6bee1"/>
<rect x="580.20" y="538.64" width="52.10" height="16.23" fill="#f8f9fc"/>
<rect x="632.00" y="538.64" width="52.30" height="16.23" fill="#f9f9fc"/>
<text x="503.15" y="550.84" font-size="11.4" text-anchor="middle" font-weight="normal" fill="#000" stroke="#000" stroke-width="0.15">114.5</text>
<text x="555.15" y="550.84" font-size="11.4" text-anchor="middle" font-weight="normal" fill="#000" stroke="#000" stroke-width="0.15">63.2</text>
<text x="607.10" y="550.84" font-size="11.4" text-anchor="middle" font-weight="normal" fill="#000" stroke="#000" stroke-width="0.15">100.0</text>
<text x="659.15" y="550.84" font-size="11.4" text-anchor="middle" font-weight="normal" fill="#000" stroke="#000" stroke-width="0.15">100.0</text>
<text x="394.40" y="550.84" font-size="11.2" text-anchor="start" font-weight="normal" fill="#000" stroke="#000" stroke-width="0.15">16:0/18:2/20:3</text>
<rect x="476.20" y="554.57" width="52.20" height="16.23" fill="#f0f4fa"/>
<rect x="528.10" y="554.57" width="52.40" height="16.23" fill="#abc2e3"/>
<rect x="580.20" y="554.57" width="52.10" height="16.23" fill="#f8f9fc"/>
<rect x="632.00" y="554.57" width="52.30" height="16.23" fill="#e4ebf6"/>
<text x="503.15" y="566.77" font-size="11.4" text-anchor="middle" font-weight="normal" fill="#000" stroke="#000" stroke-width="0.15">95.3</text>
<text x="555.15" y="566.77" font-size="11.4" text-anchor="middle" font-weight="normal" fill="#000" stroke="#000" stroke-width="0.15">65.3</text>
<text x="607.10" y="566.77" font-size="11.4" text-anchor="middle" font-weight="normal" fill="#000" stroke="#000" stroke-width="0.15">100.0</text>
<text x="659.15" y="566.77" font-size="11.4" text-anchor="middle" font-weight="normal" fill="#000" stroke="#000" stroke-width="0.15">89.3</text>
<text x="394.40" y="566.77" font-size="11.2" text-anchor="start" font-weight="normal" fill="#000" stroke="#000" stroke-width="0.15">16:0/16:0/20:4</text>
<rect x="476.20" y="570.50" width="52.20" height="16.23" fill="#fbd9db"/>
<rect x="528.10" y="570.50" width="52.40" height="16.23" fill="#faf8fb"/>
<rect x="580.20" y="570.50" width="52.10" height="16.23" fill="#f8f9fc"/>
<rect x="632.00" y="570.50" width="52.30" height="16.23" fill="#fefeff"/>
<text x="503.15" y="582.70" font-size="11.4" text-anchor="middle" font-weight="normal" fill="#000" stroke="#000" stroke-width="0.15">131.4</text>
<text x="555.15" y="582.70" font-size="11.4" text-anchor="middle" font-weight="normal" fill="#000" stroke="#000" stroke-width="0.15">85.7</text>
<text x="607.10" y="582.70" font-size="11.4" text-anchor="middle" font-weight="normal" fill="#000" stroke="#000" stroke-width="0.15">100.0</text>
<text x="659.15" y="582.70" font-size="11.4" text-anchor="middle" font-weight="normal" fill="#000" stroke="#000" stroke-width="0.15">99.7</text>
<text x="394.40" y="582.70" font-size="11.2" text-anchor="start" font-weight="normal" fill="#000" stroke="#000" stroke-width="0.15">16:0/16:1/20:4</text>
<rect x="476.20" y="586.43" width="52.20" height="16.23" fill="#d6e1f1"/>
<rect x="528.10" y="586.43" width="52.40" height="16.23" fill="#8fadd9"/>
<rect x="580.20" y="586.43" width="52.10" height="16.23" fill="#f8f9fc"/>
<rect x="632.00" y="586.43" width="52.30" height="16.23" fill="#eff3fa"/>
<text x="503.15" y="598.63" font-size="11.4" text-anchor="middle" font-weight="normal" fill="#000" stroke="#000" stroke-width="0.15">83.1</text>
<text x="555.15" y="598.63" font-size="11.4" text-anchor="middle" font-weight="normal" fill="#000" stroke="#000" stroke-width="0.15">54.6</text>
<text x="607.10" y="598.63" font-size="11.4" text-anchor="middle" font-weight="normal" fill="#000" stroke="#000" stroke-width="0.15">100.0</text>
<text x="659.15" y="598.63" font-size="11.4" text-anchor="middle" font-weight="normal" fill="#000" stroke="#000" stroke-width="0.15">94.8</text>
<text x="394.40" y="598.63" font-size="11.2" text-anchor="start" font-weight="normal" fill="#000" stroke="#000" stroke-width="0.15">18:0/16:1/20:4</text>
<rect x="476.20" y="602.36" width="52.20" height="16.23" fill="#5180c4"/>
<rect x="528.10" y="602.36" width="52.40" height="16.23" fill="#adc3e3"/>
<rect x="580.20" y="602.36" width="52.10" height="16.23" fill="#f8f9fc"/>
<rect x="632.00" y="602.36" width="52.30" height="16.23" fill="#fde8e9"/>
<text x="503.15" y="614.56" font-size="11.4" text-anchor="middle" font-weight="normal" fill="#000" stroke="#000" stroke-width="0.15">28.0</text>
<text x="555.15" y="614.56" font-size="11.4" text-anchor="middle" font-weight="normal" fill="#000" stroke="#000" stroke-width="0.15">66.0</text>
<text x="607.10" y="614.56" font-size="11.4" text-anchor="middle" font-weight="normal" fill="#000" stroke="#000" stroke-width="0.15">100.0</text>
<text x="659.15" y="614.56" font-size="11.4" text-anchor="middle" font-weight="normal" fill="#000" stroke="#000" stroke-width="0.15">117.0</text>
<text x="394.40" y="614.56" font-size="11.2" text-anchor="start" font-weight="normal" fill="#000" stroke="#000" stroke-width="0.15">16:0/18:0/20:4</text>
<rect x="476.20" y="618.29" width="52.20" height="16.23" fill="#fef5f5"/>
<rect x="528.10" y="618.29" width="52.40" height="16.23" fill="#b3c8e6"/>
<rect x="580.20" y="618.29" width="52.10" height="16.23" fill="#f8f9fc"/>
<rect x="632.00" y="618.29" width="52.30" height="16.23" fill="#f1f5fa"/>
<text x="503.15" y="630.49" font-size="11.4" text-anchor="middle" font-weight="normal" fill="#000" stroke="#000" stroke-width="0.15">105.2</text>
<text x="555.15" y="630.49" font-size="11.4" text-anchor="middle" font-weight="normal" fill="#000" stroke="#000" stroke-width="0.15">68.7</text>
<text x="607.10" y="630.49" font-size="11.4" text-anchor="middle" font-weight="normal" fill="#000" stroke="#000" stroke-width="0.15">100.0</text>
<text x="659.15" y="630.49" font-size="11.4" text-anchor="middle" font-weight="normal" fill="#000" stroke="#000" stroke-width="0.15">96.2</text>
<text x="394.40" y="630.49" font-size="11.2" text-anchor="start" font-weight="normal" fill="#000" stroke="#000" stroke-width="0.15">16:0/18:1/20:4</text>
<rect x="476.20" y="634.22" width="52.20" height="16.23" fill="#f28389"/>
<rect x="528.10" y="634.22" width="52.40" height="16.23" fill="#fdeaeb"/>
<rect x="580.20" y="634.22" width="52.10" height="16.23" fill="#f8f9fc"/>
<rect x="632.00" y="634.22" width="52.30" height="16.23" fill="#f7b2b5"/>
<text x="503.15" y="646.42" font-size="11.4" text-anchor="middle" font-weight="normal" fill="#000" stroke="#000" stroke-width="0.15">224.9</text>
<text x="555.15" y="646.42" font-size="11.4" text-anchor="middle" font-weight="normal" fill="#000" stroke="#000" stroke-width="0.15">110.9</text>
<text x="607.10" y="646.42" font-size="11.4" text-anchor="middle" font-weight="normal" fill="#000" stroke="#000" stroke-width="0.15">100.0</text>
<text x="659.15" y="646.42" font-size="11.4" text-anchor="middle" font-weight="normal" fill="#000" stroke="#000" stroke-width="0.15">172.2</text>
<text x="394.40" y="646.42" font-size="11.2" text-anchor="start" font-weight="normal" fill="#000" stroke="#000" stroke-width="0.15">18:0/18:1/20:4</text>
<rect x="476.20" y="650.15" width="52.20" height="16.23" fill="#f6a2a6"/>
<rect x="528.10" y="650.15" width="52.40" height="16.23" fill="#ee585f"/>
<rect x="580.20" y="650.15" width="52.10" height="16.23" fill="#f8f9fc"/>
<rect x="632.00" y="650.15" width="52.30" height="16.23" fill="#cddaee"/>
<text x="503.15" y="662.35" font-size="11.4" text-anchor="middle" font-weight="normal" fill="#000" stroke="#000" stroke-width="0.15">190.0</text>
<text x="555.15" y="662.35" font-size="11.4" text-anchor="middle" font-weight="normal" fill="#000" stroke="#000" stroke-width="0.15">234.9</text>
<text x="607.10" y="662.35" font-size="11.4" text-anchor="middle" font-weight="normal" fill="#000" stroke="#000" stroke-width="0.15">100.0</text>
<text x="659.15" y="662.35" font-size="11.4" text-anchor="middle" font-weight="normal" fill="#000" stroke="#000" stroke-width="0.15">79.1</text>
<text x="394.40" y="662.35" font-size="11.2" text-anchor="start" font-weight="normal" fill="#000" stroke="#000" stroke-width="0.15">16:0/18:2/20:4</text>
<rect x="476.20" y="666.08" width="52.20" height="16.23" fill="#fbd7d8"/>
<rect x="528.10" y="666.08" width="52.40" height="16.23" fill="#fdeef0"/>
<rect x="580.20" y="666.08" width="52.10" height="16.23" fill="#f8f9fc"/>
<rect x="632.00" y="666.08" width="52.30" height="16.23" fill="#dee7f4"/>
<text x="503.15" y="678.28" font-size="11.4" text-anchor="middle" font-weight="normal" fill="#000" stroke="#000" stroke-width="0.15">133.8</text>
<text x="555.15" y="678.28" font-size="11.4" text-anchor="middle" font-weight="normal" fill="#000" stroke="#000" stroke-width="0.15">98.7</text>
<text x="607.10" y="678.28" font-size="11.4" text-anchor="middle" font-weight="normal" fill="#000" stroke="#000" stroke-width="0.15">100.0</text>
<text x="659.15" y="678.28" font-size="11.4" text-anchor="middle" font-weight="normal" fill="#000" stroke="#000" stroke-width="0.15">86.6</text>
<text x="394.40" y="678.28" font-size="11.2" text-anchor="start" font-weight="normal" fill="#000" stroke="#000" stroke-width="0.15">16:0/20:4/20:4</text>
<rect x="476.20" y="682.01" width="52.20" height="16.23" fill="#e8eef7"/>
<rect x="528.10" y="682.01" width="52.40" height="16.23" fill="#dce4f2"/>
<rect x="580.20" y="682.01" width="52.10" height="16.23" fill="#f8f9fc"/>
<rect x="632.00" y="682.01" width="52.30" height="16.23" fill="#f7afb3"/>
<text x="503.15" y="694.21" font-size="11.4" text-anchor="middle" font-weight="normal" fill="#000" stroke="#000" stroke-width="0.15">91.6</text>
<text x="555.15" y="694.21" font-size="11.4" text-anchor="middle" font-weight="normal" fill="#000" stroke="#000" stroke-width="0.15">75.5</text>
<text x="607.10" y="694.21" font-size="11.4" text-anchor="middle" font-weight="normal" fill="#000" stroke="#000" stroke-width="0.15">100.0</text>
<text x="659.15" y="694.21" font-size="11.4" text-anchor="middle" font-weight="normal" fill="#000" stroke="#000" stroke-width="0.15">175.5</text>
<text x="394.40" y="694.21" font-size="11.2" text-anchor="start" font-weight="normal" fill="#000" stroke="#000" stroke-width="0.15">18:0/20:4/20:4</text>
<rect x="476.20" y="697.94" width="52.20" height="16.23" fill="#fbd9db"/>
<rect x="528.10" y="697.94" width="52.40" height="16.23" fill="#fde6e9"/>
<rect x="580.20" y="697.94" width="52.10" height="16.23" fill="#f8f9fc"/>
<rect x="632.00" y="697.94" width="52.30" height="16.23" fill="#fef8f9"/>
<text x="503.15" y="710.14" font-size="11.4" text-anchor="middle" font-weight="normal" fill="#000" stroke="#000" stroke-width="0.15">131.2</text>
<text x="555.15" y="710.14" font-size="11.4" text-anchor="middle" font-weight="normal" fill="#000" stroke="#000" stroke-width="0.15">101.6</text>
<text x="607.10" y="710.14" font-size="11.4" text-anchor="middle" font-weight="normal" fill="#000" stroke="#000" stroke-width="0.15">100.0</text>
<text x="659.15" y="710.14" font-size="11.4" text-anchor="middle" font-weight="normal" fill="#000" stroke="#000" stroke-width="0.15">103.2</text>
<text x="394.40" y="710.14" font-size="11.2" text-anchor="start" font-weight="normal" fill="#000" stroke="#000" stroke-width="0.15">16:0/16:0/20:5</text>
<rect x="476.20" y="713.87" width="52.20" height="16.23" fill="#fde9ea"/>
<rect x="528.10" y="713.87" width="52.40" height="16.23" fill="#fbfafc"/>
<rect x="580.20" y="713.87" width="52.10" height="16.23" fill="#f8f9fc"/>
<rect x="632.00" y="713.87" width="52.30" height="16.23" fill="#f6f8fc"/>
<text x="503.15" y="726.07" font-size="11.4" text-anchor="middle" font-weight="normal" fill="#000" stroke="#000" stroke-width="0.15">116.0</text>
<text x="555.15" y="726.07" font-size="11.4" text-anchor="middle" font-weight="normal" fill="#000" stroke="#000" stroke-width="0.15">84.8</text>
<text x="607.10" y="726.07" font-size="11.4" text-anchor="middle" font-weight="normal" fill="#000" stroke="#000" stroke-width="0.15">100.0</text>
<text x="659.15" y="726.07" font-size="11.4" text-anchor="middle" font-weight="normal" fill="#000" stroke="#000" stroke-width="0.15">97.7</text>
<text x="394.40" y="726.07" font-size="11.2" text-anchor="start" font-weight="normal" fill="#000" stroke="#000" stroke-width="0.15">18:0/16:1/20:5</text>
<rect x="476.20" y="729.80" width="52.20" height="16.23" fill="#c8d7ed"/>
<rect x="528.10" y="729.80" width="52.40" height="16.23" fill="#afc5e4"/>
<rect x="580.20" y="729.80" width="52.10" height="16.23" fill="#f8f9fc"/>
<rect x="632.00" y="729.80" width="52.30" height="16.23" fill="#f9c6c9"/>
<text x="503.15" y="742.00" font-size="11.4" text-anchor="middle" font-weight="normal" fill="#000" stroke="#000" stroke-width="0.15">77.3</text>
<text x="555.15" y="742.00" font-size="11.4" text-anchor="middle" font-weight="normal" fill="#000" stroke="#000" stroke-width="0.15">67.0</text>
<text x="607.10" y="742.00" font-size="11.4" text-anchor="middle" font-weight="normal" fill="#000" stroke="#000" stroke-width="0.15">100.0</text>
<text x="659.15" y="742.00" font-size="11.4" text-anchor="middle" font-weight="normal" fill="#000" stroke="#000" stroke-width="0.15">150.8</text>
<text x="394.40" y="742.00" font-size="11.2" text-anchor="start" font-weight="normal" fill="#000" stroke="#000" stroke-width="0.15">18:0/18:0/20:5</text>
<rect x="476.20" y="745.73" width="52.20" height="16.23" fill="#f9c2c4"/>
<rect x="528.10" y="745.73" width="52.40" height="16.23" fill="#fbd5d7"/>
<rect x="580.20" y="745.73" width="52.10" height="16.23" fill="#f8f9fc"/>
<rect x="632.00" y="745.73" width="52.30" height="16.23" fill="#dee7f4"/>
<text x="503.15" y="757.93" font-size="11.4" text-anchor="middle" font-weight="normal" fill="#000" stroke="#000" stroke-width="0.15">155.7</text>
<text x="555.15" y="757.93" font-size="11.4" text-anchor="middle" font-weight="normal" fill="#000" stroke="#000" stroke-width="0.15">126.4</text>
<text x="607.10" y="757.93" font-size="11.4" text-anchor="middle" font-weight="normal" fill="#000" stroke="#000" stroke-width="0.15">100.0</text>
<text x="659.15" y="757.93" font-size="11.4" text-anchor="middle" font-weight="normal" fill="#000" stroke="#000" stroke-width="0.15">86.9</text>
<text x="394.40" y="757.93" font-size="11.2" text-anchor="start" font-weight="normal" fill="#000" stroke="#000" stroke-width="0.15">16:0/18:1/20:5</text>
<rect x="476.20" y="761.66" width="52.20" height="16.23" fill="#fde9ea"/>
<rect x="528.10" y="761.66" width="52.40" height="16.23" fill="#eff1f8"/>
<rect x="580.20" y="761.66" width="52.10" height="16.23" fill="#f8f9fc"/>
<rect x="632.00" y="761.66" width="52.30" height="16.23" fill="#f7acaf"/>
<text x="503.15" y="773.86" font-size="11.4" text-anchor="middle" font-weight="normal" fill="#000" stroke="#000" stroke-width="0.15">115.5</text>
<text x="555.15" y="773.86" font-size="11.4" text-anchor="middle" font-weight="normal" fill="#000" stroke="#000" stroke-width="0.15">76.9</text>
<text x="607.10" y="773.86" font-size="11.4" text-anchor="middle" font-weight="normal" fill="#000" stroke="#000" stroke-width="0.15">100.0</text>
<text x="659.15" y="773.86" font-size="11.4" text-anchor="middle" font-weight="normal" fill="#000" stroke="#000" stroke-width="0.15">179.1</text>
<text x="394.40" y="773.86" font-size="11.2" text-anchor="start" font-weight="normal" fill="#000" stroke="#000" stroke-width="0.15">18:0/18:1/20:5</text>
<rect x="476.20" y="777.59" width="52.20" height="16.23" fill="#d2def0"/>
<rect x="528.10" y="777.59" width="52.40" height="16.23" fill="#9ab5dd"/>
<rect x="580.20" y="777.59" width="52.10" height="16.23" fill="#f8f9fc"/>
<rect x="632.00" y="777.59" width="52.30" height="16.23" fill="#eff3fa"/>
<text x="503.15" y="789.79" font-size="11.4" text-anchor="middle" font-weight="normal" fill="#000" stroke="#000" stroke-width="0.15">81.5</text>
<text x="555.15" y="789.79" font-size="11.4" text-anchor="middle" font-weight="normal" fill="#000" stroke="#000" stroke-width="0.15">58.6</text>
<text x="607.10" y="789.79" font-size="11.4" text-anchor="middle" font-weight="normal" fill="#000" stroke="#000" stroke-width="0.15">100.0</text>
<text x="659.15" y="789.79" font-size="11.4" text-anchor="middle" font-weight="normal" fill="#000" stroke="#000" stroke-width="0.15">95.1</text>
<text x="394.40" y="789.79" font-size="11.2" text-anchor="start" font-weight="normal" fill="#000" stroke="#000" stroke-width="0.15">16:0/18:2/20:5</text>
<rect x="476.20" y="793.52" width="52.20" height="16.23" fill="#fbd6d8"/>
<rect x="528.10" y="793.52" width="52.40" height="16.23" fill="#e6ebf5"/>
<rect x="580.20" y="793.52" width="52.10" height="16.23" fill="#f8f9fc"/>
<rect x="632.00" y="793.52" width="52.30" height="16.23" fill="#f6a7ab"/>
<text x="503.15" y="805.72" font-size="11.4" text-anchor="middle" font-weight="normal" fill="#000" stroke="#000" stroke-width="0.15">134.3</text>
<text x="555.15" y="805.72" font-size="11.4" text-anchor="middle" font-weight="normal" fill="#000" stroke="#000" stroke-width="0.15">77.5</text>
<text x="607.10" y="805.72" font-size="11.4" text-anchor="middle" font-weight="normal" fill="#000" stroke="#000" stroke-width="0.15">100.0</text>
<text x="659.15" y="805.72" font-size="11.4" text-anchor="middle" font-weight="normal" fill="#000" stroke="#000" stroke-width="0.15">184.4</text>
<text x="394.40" y="805.72" font-size="11.2" text-anchor="start" font-weight="normal" fill="#000" stroke="#000" stroke-width="0.15">18:0/18:2/20:5</text>
<rect x="476.20" y="809.45" width="52.20" height="16.23" fill="#facdcf"/>
<rect x="528.10" y="809.45" width="52.40" height="16.23" fill="#fdf0f2"/>
<rect x="580.20" y="809.45" width="52.10" height="16.23" fill="#f8f9fc"/>
<rect x="632.00" y="809.45" width="52.30" height="16.23" fill="#f2f5fb"/>
<text x="503.15" y="821.65" font-size="11.4" text-anchor="middle" font-weight="normal" fill="#000" stroke="#000" stroke-width="0.15">143.6</text>
<text x="555.15" y="821.65" font-size="11.4" text-anchor="middle" font-weight="normal" fill="#000" stroke="#000" stroke-width="0.15">97.5</text>
<text x="607.10" y="821.65" font-size="11.4" text-anchor="middle" font-weight="normal" fill="#000" stroke="#000" stroke-width="0.15">100.0</text>
<text x="659.15" y="821.65" font-size="11.4" text-anchor="middle" font-weight="normal" fill="#000" stroke="#000" stroke-width="0.15">96.5</text>
<text x="394.40" y="821.65" font-size="11.2" text-anchor="start" font-weight="normal" fill="#000" stroke="#000" stroke-width="0.15">18:1/18:2/20:5</text>
<rect x="476.20" y="825.38" width="52.20" height="16.23" fill="#d5e0f1"/>
<rect x="528.10" y="825.38" width="52.40" height="16.23" fill="#9fb9df"/>
<rect x="580.20" y="825.38" width="52.10" height="16.23" fill="#f8f9fc"/>
<rect x="632.00" y="825.38" width="52.30" height="16.23" fill="#f5a1a5"/>
<text x="503.15" y="837.58" font-size="11.4" text-anchor="middle" font-weight="normal" fill="#000" stroke="#000" stroke-width="0.15">82.8</text>
<text x="555.15" y="837.58" font-size="11.4" text-anchor="middle" font-weight="normal" fill="#000" stroke="#000" stroke-width="0.15">60.8</text>
<text x="607.10" y="837.58" font-size="11.4" text-anchor="middle" font-weight="normal" fill="#000" stroke="#000" stroke-width="0.15">100.0</text>
<text x="659.15" y="837.58" font-size="11.4" text-anchor="middle" font-weight="normal" fill="#000" stroke="#000" stroke-width="0.15">191.7</text>
<text x="394.40" y="837.58" font-size="11.2" text-anchor="start" font-weight="normal" fill="#000" stroke="#000" stroke-width="0.15">18:0/20:3/20:5</text>
<rect x="476.20" y="841.31" width="52.20" height="16.23" fill="#f9c2c5"/>
<rect x="528.10" y="841.31" width="52.40" height="16.23" fill="#f2f4fa"/>
<rect x="580.20" y="841.31" width="52.10" height="16.23" fill="#f8f9fc"/>
<rect x="632.00" y="841.31" width="52.30" height="16.23" fill="#f6aaae"/>
<text x="503.15" y="853.51" font-size="11.4" text-anchor="middle" font-weight="normal" fill="#000" stroke="#000" stroke-width="0.15">155.2</text>
<text x="555.15" y="853.51" font-size="11.4" text-anchor="middle" font-weight="normal" fill="#000" stroke="#000" stroke-width="0.15">80.9</text>
<text x="607.10" y="853.51" font-size="11.4" text-anchor="middle" font-weight="normal" fill="#000" stroke="#000" stroke-width="0.15">100.0</text>
<text x="659.15" y="853.51" font-size="11.4" text-anchor="middle" font-weight="normal" fill="#000" stroke="#000" stroke-width="0.15">181.3</text>
<text x="394.40" y="853.51" font-size="11.2" text-anchor="start" font-weight="normal" fill="#000" stroke="#000" stroke-width="0.15">18:1/20:3/20:5</text>
<rect x="476.20" y="857.24" width="52.20" height="16.23" fill="#f8babd"/>
<rect x="528.10" y="857.24" width="52.40" height="16.23" fill="#fde3e6"/>
<rect x="580.20" y="857.24" width="52.10" height="16.23" fill="#f8f9fc"/>
<rect x="632.00" y="857.24" width="52.30" height="16.23" fill="#e1e9f5"/>
<text x="503.15" y="869.44" font-size="11.4" text-anchor="middle" font-weight="normal" fill="#000" stroke="#000" stroke-width="0.15">163.7</text>
<text x="555.15" y="869.44" font-size="11.4" text-anchor="middle" font-weight="normal" fill="#000" stroke="#000" stroke-width="0.15">104.3</text>
<text x="607.10" y="869.44" font-size="11.4" text-anchor="middle" font-weight="normal" fill="#000" stroke="#000" stroke-width="0.15">100.0</text>
<text x="659.15" y="869.44" font-size="11.4" text-anchor="middle" font-weight="normal" fill="#000" stroke="#000" stroke-width="0.15">87.9</text>
<text x="394.40" y="869.44" font-size="11.2" text-anchor="start" font-weight="normal" fill="#000" stroke="#000" stroke-width="0.15">16:0/20:4/20:5</text>
<rect x="476.20" y="873.17" width="52.20" height="16.23" fill="#f9c7c9"/>
<rect x="528.10" y="873.17" width="52.40" height="16.23" fill="#fdf2f4"/>
<rect x="580.20" y="873.17" width="52.10" height="16.23" fill="#f8f9fc"/>
<rect x="632.00" y="873.17" width="52.30" height="16.23" fill="#f6a6aa"/>
<text x="503.15" y="885.37" font-size="11.4" text-anchor="middle" font-weight="normal" fill="#000" stroke="#000" stroke-width="0.15">150.2</text>
<text x="555.15" y="885.37" font-size="11.4" text-anchor="middle" font-weight="normal" fill="#000" stroke="#000" stroke-width="0.15">90.6</text>
<text x="607.10" y="885.37" font-size="11.4" text-anchor="middle" font-weight="normal" fill="#000" stroke="#000" stroke-width="0.15">100.0</text>
<text x="659.15" y="885.37" font-size="11.4" text-anchor="middle" font-weight="normal" fill="#000" stroke="#000" stroke-width="0.15">185.8</text>
<text x="394.40" y="885.37" font-size="11.2" text-anchor="start" font-weight="normal" fill="#000" stroke="#000" stroke-width="0.15">18:0/20:4/20:5</text>
<rect x="476.20" y="889.10" width="52.20" height="16.23" fill="#fbdbdd"/>
<rect x="528.10" y="889.10" width="52.40" height="16.23" fill="#9bb6dd"/>
<rect x="580.20" y="889.10" width="52.10" height="16.23" fill="#f8f9fc"/>
<rect x="632.00" y="889.10" width="52.30" height="16.23" fill="#f6a8ac"/>
<text x="503.15" y="901.30" font-size="11.4" text-anchor="middle" font-weight="normal" fill="#000" stroke="#000" stroke-width="0.15">128.9</text>
<text x="555.15" y="901.30" font-size="11.4" text-anchor="middle" font-weight="normal" fill="#000" stroke="#000" stroke-width="0.15">58.9</text>
<text x="607.10" y="901.30" font-size="11.4" text-anchor="middle" font-weight="normal" fill="#000" stroke="#000" stroke-width="0.15">100.0</text>
<text x="659.15" y="901.30" font-size="11.4" text-anchor="middle" font-weight="normal" fill="#000" stroke="#000" stroke-width="0.15">183.4</text>
<text x="394.40" y="901.30" font-size="11.2" text-anchor="start" font-weight="normal" fill="#000" stroke="#000" stroke-width="0.15">18:1/20:4/20:5</text>
<rect x="476.20" y="905.03" width="52.20" height="16.23" fill="#f7afb2"/>
<rect x="528.10" y="905.03" width="52.40" height="16.23" fill="#fcd9dc"/>
<rect x="580.20" y="905.03" width="52.10" height="16.23" fill="#f8f9fc"/>
<rect x="632.00" y="905.03" width="52.30" height="16.23" fill="#e8eef7"/>
<text x="503.15" y="917.23" font-size="11.4" text-anchor="middle" font-weight="normal" fill="#000" stroke="#000" stroke-width="0.15">175.6</text>
<text x="555.15" y="917.23" font-size="11.4" text-anchor="middle" font-weight="normal" fill="#000" stroke="#000" stroke-width="0.15">116.8</text>
<text x="607.10" y="917.23" font-size="11.4" text-anchor="middle" font-weight="normal" fill="#000" stroke="#000" stroke-width="0.15">100.0</text>
<text x="659.15" y="917.23" font-size="11.4" text-anchor="middle" font-weight="normal" fill="#000" stroke="#000" stroke-width="0.15">91.6</text>
<text x="394.40" y="917.23" font-size="11.2" text-anchor="start" font-weight="normal" fill="#000" stroke="#000" stroke-width="0.15">16:0/20:5/20:5</text>
<rect x="476.20" y="920.96" width="52.20" height="16.23" fill="#fce0e1"/>
<rect x="528.10" y="920.96" width="52.40" height="16.23" fill="#a5bde1"/>
<rect x="580.20" y="920.96" width="52.10" height="16.23" fill="#f8f9fc"/>
<rect x="632.00" y="920.96" width="52.30" height="16.23" fill="#f38b90"/>
<text x="503.15" y="933.16" font-size="11.4" text-anchor="middle" font-weight="normal" fill="#000" stroke="#000" stroke-width="0.15">124.8</text>
<text x="555.15" y="933.16" font-size="11.4" text-anchor="middle" font-weight="normal" fill="#000" stroke="#000" stroke-width="0.15">63.0</text>
<text x="607.10" y="933.16" font-size="11.4" text-anchor="middle" font-weight="normal" fill="#000" stroke="#000" stroke-width="0.15">100.0</text>
<text x="659.15" y="933.16" font-size="11.4" text-anchor="middle" font-weight="normal" fill="#000" stroke="#000" stroke-width="0.15">215.8</text>
<text x="394.40" y="933.16" font-size="11.2" text-anchor="start" font-weight="normal" fill="#000" stroke="#000" stroke-width="0.15">18:0/20:5/20:5</text>
<rect x="476.20" y="936.89" width="52.20" height="16.23" fill="#faced0"/>
<rect x="528.10" y="936.89" width="52.40" height="16.23" fill="#e3e9f5"/>
<rect x="580.20" y="936.89" width="52.10" height="16.23" fill="#f8f9fc"/>
<rect x="632.00" y="936.89" width="52.30" height="16.23" fill="#f7aeb2"/>
<text x="503.15" y="949.09" font-size="11.4" text-anchor="middle" font-weight="normal" fill="#000" stroke="#000" stroke-width="0.15">142.8</text>
<text x="555.15" y="949.09" font-size="11.4" text-anchor="middle" font-weight="normal" fill="#000" stroke="#000" stroke-width="0.15">76.0</text>
<text x="607.10" y="949.09" font-size="11.4" text-anchor="middle" font-weight="normal" fill="#000" stroke="#000" stroke-width="0.15">100.0</text>
<text x="659.15" y="949.09" font-size="11.4" text-anchor="middle" font-weight="normal" fill="#000" stroke="#000" stroke-width="0.15">176.5</text>
<text x="394.40" y="949.09" font-size="11.2" text-anchor="start" font-weight="normal" fill="#000" stroke="#000" stroke-width="0.15">18:1/20:5/20:5</text>
<text x="363.00" y="104.80" font-size="11.2" text-anchor="start" font-weight="normal" fill="#000" stroke="#000" stroke-width="0.15">TAG</text>
<text x="501.40" y="84.60" font-size="11.4" text-anchor="start" font-weight="normal" fill="#000" transform="rotate(-90 501.4 84.6)" stroke="#000" stroke-width="0.15">AD1</text>
<text x="514.20" y="84.60" font-size="11.4" text-anchor="start" font-weight="normal" fill="#000" transform="rotate(-90 514.2 84.6)" stroke="#000" stroke-width="0.15">control</text>
<text x="551.80" y="84.60" font-size="11.4" text-anchor="start" font-weight="normal" fill="#000" transform="rotate(-90 551.8 84.6)" stroke="#000" stroke-width="0.15">AD1</text>
<text x="565.40" y="84.60" font-size="11.4" text-anchor="start" font-weight="normal" fill="#000" transform="rotate(-90 565.4 84.6)" stroke="#000" stroke-width="0.15">metformin</text>
<text x="603.00" y="84.60" font-size="11.4" text-anchor="start" font-weight="normal" fill="#000" transform="rotate(-90 603.0 84.6)" stroke="#000" stroke-width="0.15">AD10</text>
<text x="618.00" y="84.60" font-size="11.4" text-anchor="start" font-weight="normal" fill="#000" transform="rotate(-90 618.0 84.6)" stroke="#000" stroke-width="0.15">control</text>
<text x="652.00" y="84.60" font-size="11.4" text-anchor="start" font-weight="normal" fill="#000" transform="rotate(-90 652.0 84.6)" stroke="#000" stroke-width="0.15">AD10</text>
<text x="667.00" y="84.60" font-size="11.4" text-anchor="start" font-weight="normal" fill="#000" transform="rotate(-90 667.0 84.6)" stroke="#000" stroke-width="0.15">metformin</text>
<line x1="553.7" y1="972" x2="553.7" y2="989.7" stroke="#13a04b" stroke-width="2"/>
<polygon points="553.7,960.8 547.1,973.6 553.7,971.2 560.3000000000001,973.6" fill="#13a04b"/>
<line x1="658.5" y1="972" x2="658.5" y2="989.7" stroke="#e8262c" stroke-width="2"/>
<polygon points="658.5,960.8 651.9,973.6 658.5,971.2 665.1,973.6" fill="#e8262c"/>
<text x="554.00" y="1003.50" font-size="11.4" text-anchor="middle" font-weight="normal" fill="#000" stroke="#000" stroke-width="0.15">Young</text>
<text x="554.00" y="1016.30" font-size="11.4" text-anchor="middle" font-weight="normal" fill="#000" stroke="#000" stroke-width="0.15">Met</text>
<text x="657.00" y="1003.50" font-size="11.4" text-anchor="middle" font-weight="normal" fill="#000" stroke="#000" stroke-width="0.15">Old</text>
<text x="657.00" y="1016.30" font-size="11.4" text-anchor="middle" font-weight="normal" fill="#000" stroke="#000" stroke-width="0.15">Met</text>
<text x="418.00" y="988.90" font-size="11.4" text-anchor="middle" font-weight="normal" fill="#000" stroke="#000" stroke-width="0.15">% change</text>
<defs><linearGradient id="cb" x1="0" x2="1" y1="0" y2="0"><stop offset="0" stop-color="#5180c4"/><stop offset="0.5" stop-color="#ffffff"/><stop offset="1" stop-color="#ef656c"/></linearGradient></defs>
<rect x="376.3" y="995.1" width="85.2" height="11.8" fill="url(#cb)" stroke="#333" stroke-width="1.2"/>
<text x="386.80" y="1004.90" font-size="11.4" text-anchor="middle" font-weight="normal" fill="#000" stroke="#000" stroke-width="0.15">0</text>
<text x="418.90" y="1004.90" font-size="11.4" text-anchor="middle" font-weight="normal" fill="#000" stroke="#000" stroke-width="0.15">100</text>
<text x="449.80" y="1004.90" font-size="11.4" text-anchor="middle" font-weight="normal" fill="#000" stroke="#000" stroke-width="0.15">260</text>
</svg>
</body></html>
